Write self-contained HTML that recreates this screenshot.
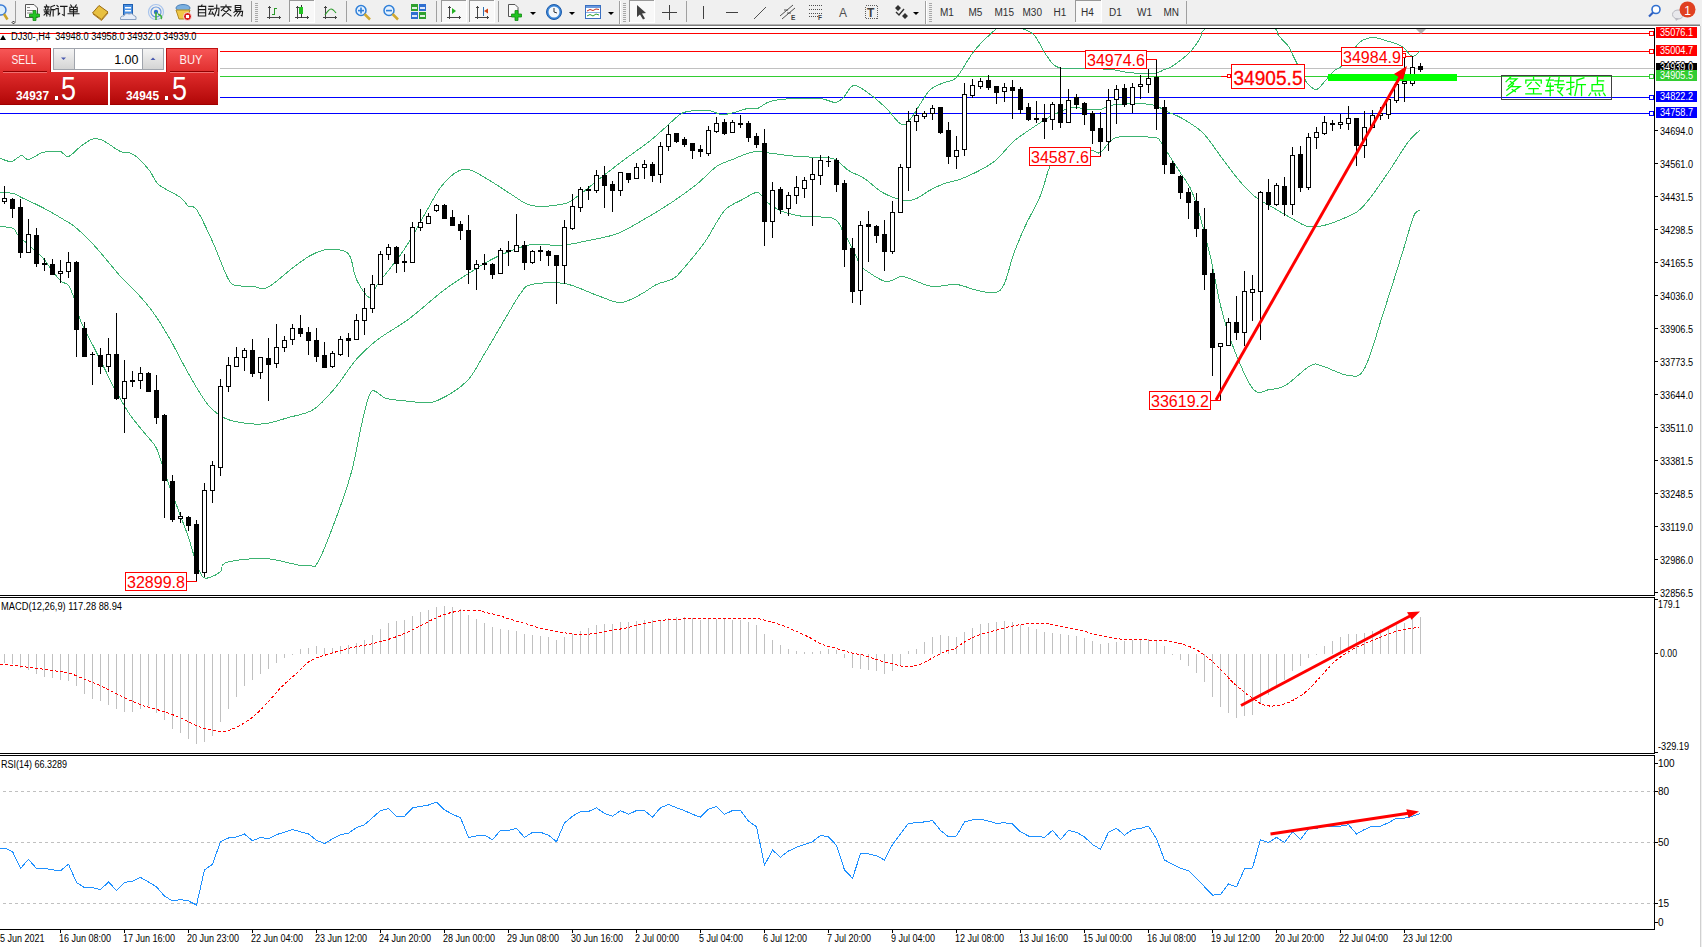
<!DOCTYPE html>
<html><head><meta charset="utf-8"><title>MT4</title>
<style>
html,body{margin:0;padding:0;background:#fff;}
body{width:1702px;height:947px;overflow:hidden;position:relative;font-family:"Liberation Sans", sans-serif;}
svg{position:absolute;left:0;top:0;}
</style></head><body>
<svg width="1702" height="947" viewBox="0 0 1702 947" font-family='"Liberation Sans", sans-serif'>
<rect x="0" y="0" width="1702" height="24" fill="#f0f0f0" /><rect x="0" y="24" width="1702" height="1" fill="#b4b4b4"/><rect x="0" y="25" width="1702" height="1" fill="#7c7c7c"/>
<rect x="0" y="26" width="1700" height="921" fill="#ffffff" />
<rect x="1700" y="24" width="2" height="923" fill="#f0f0f0" />
<rect x="1700" y="26" width="1" height="921" fill="#d0d0d0"/>
<defs><clipPath id="cm"><rect x="0" y="29" width="1654" height="566"/></clipPath><clipPath id="cd"><rect x="0" y="598" width="1654" height="155"/></clipPath><clipPath id="cr"><rect x="0" y="756" width="1654" height="173"/></clipPath></defs>
<g clip-path="url(#cm)" shape-rendering="crispEdges">
<rect x="0" y="33" width="1654" height="1" fill="#ff0000"/>
<rect x="0" y="51" width="1654" height="1" fill="#ff0000"/>
<rect x="0" y="68" width="1654" height="1" fill="#c0c0c0"/>
<rect x="0" y="76" width="1654" height="1" fill="#32cd32"/>
<rect x="0" y="97" width="1654" height="1" fill="#0000ff"/>
<rect x="0" y="113" width="1654" height="1" fill="#0000ff"/>
</g>
<g clip-path="url(#cm)">
<path d="M0.5,158.5 C2.3,159.0 8.0,162.0 11.5,161.5 C15.0,161.0 18.7,155.8 21.5,155.5 C24.3,155.2 25.0,160.0 28.5,159.5 C32.0,159.0 38.7,153.8 42.5,152.5 C46.3,151.2 48.5,151.7 51.5,151.5 C54.5,151.3 57.7,150.7 60.5,151.5 C63.3,152.3 65.2,157.3 68.5,156.5 C71.8,155.7 76.7,149.3 80.5,146.5 C84.3,143.7 88.2,140.7 91.5,139.5 C94.8,138.3 97.5,138.7 100.5,139.5 C103.5,140.3 106.2,142.5 109.5,144.5 C112.8,146.5 116.5,149.8 120.5,151.5 C124.5,153.2 128.7,151.3 133.5,154.5 C138.3,157.7 145.3,165.5 149.5,170.5 C153.7,175.5 153.3,180.0 158.5,184.5 C163.7,189.0 175.5,193.8 180.5,197.5 C185.5,201.2 185.8,204.5 188.5,206.5 C191.2,208.5 192.5,203.7 196.5,209.5 C200.5,215.3 207.2,229.8 212.5,241.5 C217.8,253.2 224.3,272.2 228.5,279.5 C232.7,286.8 233.3,284.3 237.5,285.5 C241.7,286.7 248.5,286.2 253.5,286.5 C258.5,286.8 260.7,290.8 267.5,287.5 C274.3,284.2 287.3,271.8 294.5,266.5 C301.7,261.2 305.2,258.3 310.5,255.5 C315.8,252.7 321.2,250.3 326.5,249.5 C331.8,248.7 338.5,249.2 342.5,250.5 C346.5,251.8 348.2,252.7 350.5,257.5 C352.8,262.3 353.3,272.8 356.5,279.5 C359.7,286.2 366.0,296.7 369.5,297.5 C373.0,298.3 371.8,292.3 377.5,284.5 C383.2,276.7 395.8,261.8 403.5,250.5 C411.2,239.2 417.3,227.0 423.5,216.5 C429.7,206.0 434.8,195.0 440.5,187.5 C446.2,180.0 452.3,174.3 457.5,171.5 C462.7,168.7 465.3,168.5 471.5,170.5 C477.7,172.5 487.8,179.5 494.5,183.5 C501.2,187.5 505.3,190.8 511.5,194.5 C517.7,198.2 523.3,203.8 531.5,205.5 C539.7,207.2 553.3,205.7 560.5,204.5 C567.7,203.3 567.5,203.2 574.5,198.5 C581.5,193.8 594.8,182.5 602.5,176.5 C610.2,170.5 615.0,166.7 620.5,162.5 C626.0,158.3 630.5,155.2 635.5,151.5 C640.5,147.8 645.3,144.7 650.5,140.5 C655.7,136.3 661.3,131.0 666.5,126.5 C671.7,122.0 676.5,116.2 681.5,113.5 C686.5,110.8 691.8,111.0 696.5,110.5 C701.2,110.0 705.3,109.8 709.5,110.5 C713.7,111.2 717.3,114.2 721.5,114.5 C725.7,114.8 730.2,113.5 734.5,112.5 C738.8,111.5 743.7,109.2 747.5,108.5 C751.3,107.8 754.2,109.5 757.5,108.5 C760.8,107.5 763.7,104.0 767.5,102.5 C771.3,101.0 775.5,100.2 780.5,99.5 C785.5,98.8 790.8,98.7 797.5,98.5 C804.2,98.3 814.2,97.8 820.5,98.5 C826.8,99.2 831.7,102.7 835.5,102.5 C839.3,102.3 840.5,100.3 843.5,97.5 C846.5,94.7 849.5,86.3 853.5,85.5 C857.5,84.7 862.2,88.8 867.5,92.5 C872.8,96.2 879.8,102.2 885.5,107.5 C891.2,112.8 897.2,122.8 901.5,124.5 C905.8,126.2 906.8,123.2 911.5,117.5 C916.2,111.8 924.0,96.3 929.5,90.5 C935.0,84.7 940.0,84.7 944.5,82.5 C949.0,80.3 951.5,82.8 956.5,77.5 C961.5,72.2 968.0,58.5 974.5,50.5 C981.0,42.5 989.8,34.5 995.5,29.5 C1001.2,24.5 1004.0,20.7 1008.5,20.5 C1013.0,20.3 1018.2,26.0 1022.5,28.5 C1026.8,31.0 1030.5,31.0 1034.5,35.5 C1038.5,40.0 1042.5,50.2 1046.5,55.5 C1050.5,60.8 1051.8,65.3 1058.5,67.5 C1065.2,69.7 1077.7,68.2 1086.5,68.5 C1095.3,68.8 1104.5,68.8 1111.5,69.5 C1118.5,70.2 1121.5,71.8 1128.5,72.5 C1135.5,73.2 1147.5,74.0 1153.5,73.5 C1159.5,73.0 1161.2,70.8 1164.5,69.5 C1167.8,68.2 1169.2,68.5 1173.5,65.5 C1177.8,62.5 1186.0,56.2 1190.5,51.5 C1195.0,46.8 1198.0,41.3 1200.5,37.5 C1203.0,33.7 1198.8,33.0 1205.5,28.5 C1212.2,24.0 1229.0,10.5 1240.5,10.5 C1252.0,10.5 1268.2,24.3 1274.5,28.5 C1280.8,32.7 1276.2,32.5 1278.5,35.5 C1280.8,38.5 1286.0,43.0 1288.5,46.5 C1291.0,50.0 1292.0,53.5 1293.5,56.5 C1295.0,59.5 1295.5,60.5 1297.5,64.5 C1299.5,68.5 1303.7,77.2 1305.5,80.5 C1307.3,83.8 1306.7,83.0 1308.5,84.5 C1310.3,86.0 1313.7,90.2 1316.5,89.5 C1319.3,88.8 1322.5,83.7 1325.5,80.5 C1328.5,77.3 1331.5,73.2 1334.5,70.5 C1337.5,67.8 1339.7,68.8 1343.5,64.5 C1347.3,60.2 1354.0,48.7 1357.5,44.5 C1361.0,40.3 1361.7,40.7 1364.5,39.5 C1367.3,38.3 1371.0,37.3 1374.5,37.5 C1378.0,37.7 1382.0,39.5 1385.5,40.5 C1389.0,41.5 1392.5,42.3 1395.5,43.5 C1398.5,44.7 1400.7,45.3 1403.5,47.5 C1406.3,49.7 1409.7,56.0 1412.5,56.5 C1415.3,57.0 1419.2,51.5 1420.5,50.5" fill="none" stroke="#3cb371" stroke-width="1" shape-rendering="crispEdges"/>
<path d="M0.5,192.5 C2.7,192.7 10.0,192.7 13.5,193.5 C17.0,194.3 16.7,195.2 21.5,197.5 C26.3,199.8 35.5,203.8 42.5,207.5 C49.5,211.2 58.2,216.3 63.5,219.5 C68.8,222.7 70.2,223.0 74.5,226.5 C78.8,230.0 85.3,236.3 89.5,240.5 C93.7,244.7 96.0,247.5 99.5,251.5 C103.0,255.5 107.0,260.3 110.5,264.5 C114.0,268.7 116.2,271.8 120.5,276.5 C124.8,281.2 131.2,286.7 136.5,292.5 C141.8,298.3 147.2,304.2 152.5,311.5 C157.8,318.8 163.3,327.7 168.5,336.5 C173.7,345.3 178.8,356.0 183.5,364.5 C188.2,373.0 192.2,380.5 196.5,387.5 C200.8,394.5 204.7,401.3 209.5,406.5 C214.3,411.7 219.2,415.7 225.5,418.5 C231.8,421.3 240.7,422.7 247.5,423.5 C254.3,424.3 259.7,424.5 266.5,423.5 C273.3,422.5 280.7,419.8 288.5,417.5 C296.3,415.2 305.7,414.5 313.5,409.5 C321.3,404.5 328.7,395.5 335.5,387.5 C342.3,379.5 348.7,368.5 354.5,361.5 C360.3,354.5 365.7,349.8 370.5,345.5 C375.3,341.2 377.0,340.0 383.5,335.5 C390.0,331.0 399.5,326.0 409.5,318.5 C419.5,311.0 433.7,298.0 443.5,290.5 C453.3,283.0 459.5,279.2 468.5,273.5 C477.5,267.8 487.0,261.3 497.5,256.5 C508.0,251.7 521.0,246.3 531.5,244.5 C542.0,242.7 551.0,246.2 560.5,245.5 C570.0,244.8 579.0,242.5 588.5,240.5 C598.0,238.5 608.0,237.2 617.5,233.5 C627.0,229.8 636.5,223.7 645.5,218.5 C654.5,213.3 663.0,208.2 671.5,202.5 C680.0,196.8 689.0,190.5 696.5,184.5 C704.0,178.5 710.5,170.7 716.5,166.5 C722.5,162.3 727.3,161.7 732.5,159.5 C737.7,157.3 743.3,154.8 747.5,153.5 C751.7,152.2 753.3,151.5 757.5,151.5 C761.7,151.5 765.8,152.7 772.5,153.5 C779.2,154.3 789.0,155.8 797.5,156.5 C806.0,157.2 817.2,157.0 823.5,157.5 C829.8,158.0 831.3,157.3 835.5,159.5 C839.7,161.7 843.7,167.3 848.5,170.5 C853.3,173.7 858.8,174.8 864.5,178.5 C870.2,182.2 875.8,188.8 882.5,192.5 C889.2,196.2 898.8,199.5 904.5,200.5 C910.2,201.5 912.3,200.2 916.5,198.5 C920.7,196.8 924.8,193.0 929.5,190.5 C934.2,188.0 939.5,185.3 944.5,183.5 C949.5,181.7 954.0,181.5 959.5,179.5 C965.0,177.5 971.5,174.7 977.5,171.5 C983.5,168.3 989.5,165.5 995.5,160.5 C1001.5,155.5 1007.5,146.8 1013.5,141.5 C1019.5,136.2 1025.7,132.5 1031.5,128.5 C1037.3,124.5 1044.3,120.0 1048.5,117.5 C1052.7,115.0 1052.7,115.2 1056.5,113.5 C1060.3,111.8 1065.8,108.2 1071.5,107.5 C1077.2,106.8 1085.7,109.2 1090.5,109.5 C1095.3,109.8 1096.3,110.3 1100.5,109.5 C1104.7,108.7 1107.0,105.3 1115.5,104.5 C1124.0,103.7 1143.0,103.3 1151.5,104.5 C1160.0,105.7 1161.7,109.3 1166.5,111.5 C1171.3,113.7 1174.5,114.0 1180.5,117.5 C1186.5,121.0 1195.7,125.8 1202.5,132.5 C1209.3,139.2 1215.7,149.8 1221.5,157.5 C1227.3,165.2 1232.2,172.2 1237.5,178.5 C1242.8,184.8 1248.2,191.0 1253.5,195.5 C1258.8,200.0 1263.7,202.0 1269.5,205.5 C1275.3,209.0 1282.2,213.0 1288.5,216.5 C1294.8,220.0 1301.7,225.0 1307.5,226.5 C1313.3,228.0 1318.3,226.5 1323.5,225.5 C1328.7,224.5 1332.8,222.8 1338.5,220.5 C1344.2,218.2 1352.2,215.3 1357.5,211.5 C1362.8,207.7 1365.2,204.3 1370.5,197.5 C1375.8,190.7 1383.2,179.8 1389.5,170.5 C1395.8,161.2 1403.5,148.2 1408.5,141.5 C1413.5,134.8 1417.7,132.3 1419.5,130.5" fill="none" stroke="#3cb371" stroke-width="1" shape-rendering="crispEdges"/>
<path d="M0.5,226.5 C2.7,226.8 10.7,227.2 13.5,228.5 C16.3,229.8 14.3,231.2 17.5,234.5 C20.7,237.8 28.3,244.7 32.5,248.5 C36.7,252.3 39.0,253.5 42.5,257.5 C46.0,261.5 50.3,268.5 53.5,272.5 C56.7,276.5 59.0,279.3 61.5,281.5 C64.0,283.7 66.3,282.5 68.5,285.5 C70.7,288.5 72.5,293.7 74.5,299.5 C76.5,305.3 77.2,312.3 80.5,320.5 C83.8,328.7 90.5,340.5 94.5,348.5 C98.5,356.5 101.2,361.8 104.5,368.5 C107.8,375.2 110.5,381.2 114.5,388.5 C118.5,395.8 124.0,405.7 128.5,412.5 C133.0,419.3 137.0,423.8 141.5,429.5 C146.0,435.2 152.2,441.0 155.5,446.5 C158.8,452.0 159.3,456.3 161.5,462.5 C163.7,468.7 165.7,475.5 168.5,483.5 C171.3,491.5 175.2,501.5 178.5,510.5 C181.8,519.5 185.7,529.2 188.5,537.5 C191.3,545.8 193.2,554.0 195.5,560.5 C197.8,567.0 200.2,573.7 202.5,576.5 C204.8,579.3 206.5,578.3 209.5,577.5 C212.5,576.7 217.7,574.0 220.5,571.5 C223.3,569.0 219.2,564.7 226.5,562.5 C233.8,560.3 252.2,558.0 264.5,558.5 C276.8,559.0 292.8,564.3 300.5,565.5 C308.2,566.7 307.8,565.7 310.5,565.5 C313.2,565.3 313.3,569.5 316.5,564.5 C319.7,559.5 323.8,550.3 329.5,535.5 C335.2,520.7 345.0,494.7 350.5,475.5 C356.0,456.3 359.0,434.5 362.5,420.5 C366.0,406.5 367.5,395.2 371.5,391.5 C375.5,387.8 379.8,396.8 386.5,398.5 C393.2,400.2 405.8,400.8 411.5,401.5 C417.2,402.2 416.2,402.7 420.5,402.5 C424.8,402.3 429.8,404.0 437.5,400.5 C445.2,397.0 458.8,389.0 466.5,381.5 C474.2,374.0 477.3,365.5 483.5,355.5 C489.7,345.5 497.3,331.8 503.5,321.5 C509.7,311.2 515.8,299.7 520.5,293.5 C525.2,287.3 524.2,286.2 531.5,284.5 C538.8,282.8 553.5,281.7 564.5,283.5 C575.5,285.3 588.2,292.3 597.5,295.5 C606.8,298.7 613.3,302.7 620.5,302.5 C627.7,302.3 634.5,297.5 640.5,294.5 C646.5,291.5 651.0,287.2 656.5,284.5 C662.0,281.8 669.0,281.2 673.5,278.5 C678.0,275.8 678.3,274.5 683.5,268.5 C688.7,262.5 699.0,250.2 704.5,242.5 C710.0,234.8 712.8,228.2 716.5,222.5 C720.2,216.8 722.2,212.3 726.5,208.5 C730.8,204.7 737.3,202.2 742.5,199.5 C747.7,196.8 753.3,192.0 757.5,192.5 C761.7,193.0 763.3,199.3 767.5,202.5 C771.7,205.7 776.5,209.2 782.5,211.5 C788.5,213.8 795.0,215.3 803.5,216.5 C812.0,217.7 826.8,215.8 833.5,218.5 C840.2,221.2 840.3,227.5 843.5,232.5 C846.7,237.5 849.7,243.0 852.5,248.5 C855.3,254.0 858.5,262.0 860.5,265.5 C862.5,269.0 860.3,266.8 864.5,269.5 C868.7,272.2 879.3,280.3 885.5,281.5 C891.7,282.7 896.7,276.7 901.5,276.5 C906.3,276.3 909.3,278.8 914.5,280.5 C919.7,282.2 925.5,285.8 932.5,286.5 C939.5,287.2 949.0,283.8 956.5,284.5 C964.0,285.2 971.0,289.2 977.5,290.5 C984.0,291.8 991.0,293.7 995.5,292.5 C1000.0,291.3 1001.5,289.8 1004.5,283.5 C1007.5,277.2 1010.0,264.2 1013.5,254.5 C1017.0,244.8 1021.0,235.3 1025.5,225.5 C1030.0,215.7 1036.5,205.2 1040.5,195.5 C1044.5,185.8 1046.2,174.7 1049.5,167.5 C1052.8,160.3 1053.7,155.3 1060.5,152.5 C1067.3,149.7 1083.8,150.5 1090.5,150.5 C1097.2,150.5 1096.2,154.7 1100.5,152.5 C1104.8,150.3 1107.7,140.0 1116.5,137.5 C1125.3,135.0 1146.2,136.8 1153.5,137.5 C1160.8,138.2 1157.7,138.2 1160.5,141.5 C1163.3,144.8 1167.0,152.0 1170.5,157.5 C1174.0,163.0 1177.7,168.2 1181.5,174.5 C1185.3,180.8 1188.8,182.5 1193.5,195.5 C1198.2,208.5 1204.8,233.5 1209.5,252.5 C1214.2,271.5 1217.3,293.2 1221.5,309.5 C1225.7,325.8 1229.2,337.2 1234.5,350.5 C1239.8,363.8 1247.7,383.0 1253.5,389.5 C1259.3,396.0 1264.2,390.2 1269.5,389.5 C1274.8,388.8 1278.7,389.5 1285.5,385.5 C1292.3,381.5 1304.2,368.7 1310.5,365.5 C1316.8,362.3 1317.2,364.8 1323.5,366.5 C1329.8,368.2 1341.7,375.2 1348.5,375.5 C1355.3,375.8 1358.7,379.0 1364.5,368.5 C1370.3,358.0 1377.2,331.8 1383.5,312.5 C1389.8,293.2 1397.5,268.5 1402.5,252.5 C1407.5,236.5 1410.7,223.5 1413.5,216.5 C1416.3,209.5 1418.5,211.5 1419.5,210.5" fill="none" stroke="#3cb371" stroke-width="1" shape-rendering="crispEdges"/>
</g>
<g clip-path="url(#cm)" shape-rendering="crispEdges">
<rect x="4" y="186" width="1" height="18" fill="#000" />
<rect x="2" y="198" width="5" height="4" fill="#000" />
<rect x="3" y="199" width="3" height="2" fill="#fff" />
<rect x="12" y="198" width="1" height="20" fill="#000" />
<rect x="10" y="199" width="5" height="10" fill="#000" />
<rect x="20" y="199" width="1" height="59" fill="#000" />
<rect x="18" y="207" width="5" height="46" fill="#000" />
<rect x="28" y="219" width="1" height="34" fill="#000" />
<rect x="26" y="234" width="5" height="19" fill="#000" />
<rect x="27" y="235" width="3" height="17" fill="#fff" />
<rect x="36" y="228" width="1" height="39" fill="#000" />
<rect x="34" y="235" width="5" height="29" fill="#000" />
<rect x="44" y="258" width="1" height="13" fill="#000" />
<rect x="42" y="263" width="5" height="2" fill="#000" />
<rect x="52" y="259" width="1" height="16" fill="#000" />
<rect x="50" y="264" width="5" height="11" fill="#000" />
<rect x="60" y="260" width="1" height="23" fill="#000" />
<rect x="58" y="271" width="5" height="3" fill="#000" />
<rect x="59" y="272" width="3" height="1" fill="#fff" />
<rect x="68" y="252" width="1" height="26" fill="#000" />
<rect x="66" y="262" width="5" height="10" fill="#000" />
<rect x="67" y="263" width="3" height="8" fill="#fff" />
<rect x="76" y="261" width="1" height="96" fill="#000" />
<rect x="74" y="262" width="5" height="68" fill="#000" />
<rect x="84" y="322" width="1" height="35" fill="#000" />
<rect x="82" y="328" width="5" height="29" fill="#000" />
<rect x="92" y="352" width="1" height="33" fill="#000" />
<rect x="90" y="354" width="5" height="1" fill="#000" />
<rect x="100" y="348" width="1" height="26" fill="#000" />
<rect x="98" y="355" width="5" height="12" fill="#000" />
<rect x="108" y="338" width="1" height="34" fill="#000" />
<rect x="106" y="354" width="5" height="13" fill="#000" />
<rect x="107" y="355" width="3" height="11" fill="#fff" />
<rect x="116" y="313" width="1" height="87" fill="#000" />
<rect x="114" y="354" width="5" height="45" fill="#000" />
<rect x="124" y="360" width="1" height="73" fill="#000" />
<rect x="122" y="381" width="5" height="18" fill="#000" />
<rect x="123" y="382" width="3" height="16" fill="#fff" />
<rect x="132" y="371" width="1" height="16" fill="#000" />
<rect x="130" y="380" width="5" height="2" fill="#000" />
<rect x="140" y="367" width="1" height="22" fill="#000" />
<rect x="138" y="373" width="5" height="8" fill="#000" />
<rect x="139" y="374" width="3" height="6" fill="#fff" />
<rect x="148" y="372" width="1" height="20" fill="#000" />
<rect x="146" y="373" width="5" height="19" fill="#000" />
<rect x="156" y="375" width="1" height="49" fill="#000" />
<rect x="154" y="390" width="5" height="28" fill="#000" />
<rect x="164" y="414" width="1" height="104" fill="#000" />
<rect x="162" y="415" width="5" height="66" fill="#000" />
<rect x="172" y="475" width="1" height="47" fill="#000" />
<rect x="170" y="481" width="5" height="39" fill="#000" />
<rect x="180" y="512" width="1" height="11" fill="#000" />
<rect x="178" y="516" width="5" height="3" fill="#000" />
<rect x="179" y="517" width="3" height="1" fill="#fff" />
<rect x="188" y="516" width="1" height="15" fill="#000" />
<rect x="186" y="517" width="5" height="9" fill="#000" />
<rect x="196" y="520" width="1" height="62" fill="#000" />
<rect x="194" y="524" width="5" height="50" fill="#000" />
<rect x="204" y="483" width="1" height="94" fill="#000" />
<rect x="202" y="490" width="5" height="83" fill="#000" />
<rect x="203" y="491" width="3" height="81" fill="#fff" />
<rect x="212" y="461" width="1" height="42" fill="#000" />
<rect x="210" y="465" width="5" height="26" fill="#000" />
<rect x="211" y="466" width="3" height="24" fill="#fff" />
<rect x="220" y="379" width="1" height="97" fill="#000" />
<rect x="218" y="386" width="5" height="82" fill="#000" />
<rect x="219" y="387" width="3" height="80" fill="#fff" />
<rect x="228" y="357" width="1" height="35" fill="#000" />
<rect x="226" y="365" width="5" height="22" fill="#000" />
<rect x="227" y="366" width="3" height="20" fill="#fff" />
<rect x="236" y="347" width="1" height="20" fill="#000" />
<rect x="234" y="357" width="5" height="10" fill="#000" />
<rect x="235" y="358" width="3" height="8" fill="#fff" />
<rect x="244" y="348" width="1" height="23" fill="#000" />
<rect x="242" y="350" width="5" height="8" fill="#000" />
<rect x="243" y="351" width="3" height="6" fill="#fff" />
<rect x="252" y="339" width="1" height="38" fill="#000" />
<rect x="250" y="350" width="5" height="24" fill="#000" />
<rect x="260" y="357" width="1" height="22" fill="#000" />
<rect x="258" y="357" width="5" height="16" fill="#000" />
<rect x="259" y="358" width="3" height="14" fill="#fff" />
<rect x="268" y="338" width="1" height="63" fill="#000" />
<rect x="266" y="358" width="5" height="7" fill="#000" />
<rect x="276" y="324" width="1" height="44" fill="#000" />
<rect x="274" y="347" width="5" height="17" fill="#000" />
<rect x="275" y="348" width="3" height="15" fill="#fff" />
<rect x="284" y="336" width="1" height="16" fill="#000" />
<rect x="282" y="340" width="5" height="8" fill="#000" />
<rect x="283" y="341" width="3" height="6" fill="#fff" />
<rect x="292" y="324" width="1" height="21" fill="#000" />
<rect x="290" y="328" width="5" height="12" fill="#000" />
<rect x="291" y="329" width="3" height="10" fill="#fff" />
<rect x="300" y="315" width="1" height="22" fill="#000" />
<rect x="298" y="328" width="5" height="6" fill="#000" />
<rect x="308" y="327" width="1" height="28" fill="#000" />
<rect x="306" y="332" width="5" height="9" fill="#000" />
<rect x="316" y="328" width="1" height="34" fill="#000" />
<rect x="314" y="340" width="5" height="17" fill="#000" />
<rect x="324" y="342" width="1" height="26" fill="#000" />
<rect x="322" y="355" width="5" height="13" fill="#000" />
<rect x="332" y="351" width="1" height="17" fill="#000" />
<rect x="330" y="353" width="5" height="14" fill="#000" />
<rect x="331" y="354" width="3" height="12" fill="#fff" />
<rect x="340" y="336" width="1" height="20" fill="#000" />
<rect x="338" y="339" width="5" height="16" fill="#000" />
<rect x="339" y="340" width="3" height="14" fill="#fff" />
<rect x="348" y="333" width="1" height="24" fill="#000" />
<rect x="346" y="338" width="5" height="3" fill="#000" />
<rect x="356" y="314" width="1" height="26" fill="#000" />
<rect x="354" y="320" width="5" height="20" fill="#000" />
<rect x="355" y="321" width="3" height="18" fill="#fff" />
<rect x="364" y="288" width="1" height="47" fill="#000" />
<rect x="362" y="308" width="5" height="13" fill="#000" />
<rect x="363" y="309" width="3" height="11" fill="#fff" />
<rect x="372" y="275" width="1" height="38" fill="#000" />
<rect x="370" y="284" width="5" height="25" fill="#000" />
<rect x="371" y="285" width="3" height="23" fill="#fff" />
<rect x="380" y="251" width="1" height="34" fill="#000" />
<rect x="378" y="254" width="5" height="31" fill="#000" />
<rect x="379" y="255" width="3" height="29" fill="#fff" />
<rect x="388" y="244" width="1" height="16" fill="#000" />
<rect x="386" y="247" width="5" height="8" fill="#000" />
<rect x="387" y="248" width="3" height="6" fill="#fff" />
<rect x="396" y="246" width="1" height="27" fill="#000" />
<rect x="394" y="247" width="5" height="17" fill="#000" />
<rect x="404" y="254" width="1" height="18" fill="#000" />
<rect x="402" y="261" width="5" height="2" fill="#000" />
<rect x="412" y="222" width="1" height="41" fill="#000" />
<rect x="410" y="227" width="5" height="36" fill="#000" />
<rect x="411" y="228" width="3" height="34" fill="#fff" />
<rect x="420" y="209" width="1" height="22" fill="#000" />
<rect x="418" y="222" width="5" height="6" fill="#000" />
<rect x="419" y="223" width="3" height="4" fill="#fff" />
<rect x="428" y="213" width="1" height="11" fill="#000" />
<rect x="426" y="216" width="5" height="8" fill="#000" />
<rect x="427" y="217" width="3" height="6" fill="#fff" />
<rect x="436" y="204" width="1" height="8" fill="#000" />
<rect x="434" y="205" width="5" height="6" fill="#000" />
<rect x="435" y="206" width="3" height="4" fill="#fff" />
<rect x="444" y="204" width="1" height="15" fill="#000" />
<rect x="442" y="205" width="5" height="14" fill="#000" />
<rect x="452" y="210" width="1" height="16" fill="#000" />
<rect x="450" y="217" width="5" height="9" fill="#000" />
<rect x="460" y="221" width="1" height="19" fill="#000" />
<rect x="458" y="224" width="5" height="7" fill="#000" />
<rect x="468" y="215" width="1" height="69" fill="#000" />
<rect x="466" y="230" width="5" height="40" fill="#000" />
<rect x="476" y="260" width="1" height="30" fill="#000" />
<rect x="474" y="264" width="5" height="5" fill="#000" />
<rect x="475" y="265" width="3" height="3" fill="#fff" />
<rect x="484" y="254" width="1" height="16" fill="#000" />
<rect x="482" y="263" width="5" height="2" fill="#000" />
<rect x="492" y="263" width="1" height="16" fill="#000" />
<rect x="490" y="264" width="5" height="11" fill="#000" />
<rect x="500" y="248" width="1" height="26" fill="#000" />
<rect x="498" y="250" width="5" height="24" fill="#000" />
<rect x="499" y="251" width="3" height="22" fill="#fff" />
<rect x="508" y="241" width="1" height="25" fill="#000" />
<rect x="506" y="250" width="5" height="2" fill="#000" />
<rect x="516" y="214" width="1" height="38" fill="#000" />
<rect x="514" y="245" width="5" height="7" fill="#000" />
<rect x="515" y="246" width="3" height="5" fill="#fff" />
<rect x="524" y="241" width="1" height="29" fill="#000" />
<rect x="522" y="245" width="5" height="18" fill="#000" />
<rect x="532" y="250" width="1" height="14" fill="#000" />
<rect x="530" y="251" width="5" height="12" fill="#000" />
<rect x="531" y="252" width="3" height="10" fill="#fff" />
<rect x="540" y="246" width="1" height="15" fill="#000" />
<rect x="538" y="250" width="5" height="2" fill="#000" />
<rect x="548" y="250" width="1" height="16" fill="#000" />
<rect x="546" y="251" width="5" height="5" fill="#000" />
<rect x="556" y="255" width="1" height="49" fill="#000" />
<rect x="554" y="255" width="5" height="11" fill="#000" />
<rect x="564" y="220" width="1" height="64" fill="#000" />
<rect x="562" y="227" width="5" height="39" fill="#000" />
<rect x="563" y="228" width="3" height="37" fill="#fff" />
<rect x="572" y="194" width="1" height="36" fill="#000" />
<rect x="570" y="206" width="5" height="23" fill="#000" />
<rect x="571" y="207" width="3" height="21" fill="#fff" />
<rect x="580" y="187" width="1" height="25" fill="#000" />
<rect x="578" y="189" width="5" height="19" fill="#000" />
<rect x="579" y="190" width="3" height="17" fill="#fff" />
<rect x="588" y="186" width="1" height="14" fill="#000" />
<rect x="586" y="189" width="5" height="2" fill="#000" />
<rect x="596" y="170" width="1" height="23" fill="#000" />
<rect x="594" y="175" width="5" height="16" fill="#000" />
<rect x="595" y="176" width="3" height="14" fill="#fff" />
<rect x="604" y="166" width="1" height="42" fill="#000" />
<rect x="602" y="175" width="5" height="11" fill="#000" />
<rect x="612" y="181" width="1" height="31" fill="#000" />
<rect x="610" y="184" width="5" height="7" fill="#000" />
<rect x="620" y="172" width="1" height="24" fill="#000" />
<rect x="618" y="172" width="5" height="19" fill="#000" />
<rect x="619" y="173" width="3" height="17" fill="#fff" />
<rect x="628" y="173" width="1" height="10" fill="#000" />
<rect x="626" y="173" width="5" height="7" fill="#000" />
<rect x="636" y="163" width="1" height="16" fill="#000" />
<rect x="634" y="167" width="5" height="12" fill="#000" />
<rect x="635" y="168" width="3" height="10" fill="#fff" />
<rect x="644" y="160" width="1" height="19" fill="#000" />
<rect x="642" y="164" width="5" height="4" fill="#000" />
<rect x="643" y="165" width="3" height="2" fill="#fff" />
<rect x="652" y="162" width="1" height="20" fill="#000" />
<rect x="650" y="164" width="5" height="12" fill="#000" />
<rect x="660" y="142" width="1" height="41" fill="#000" />
<rect x="658" y="146" width="5" height="29" fill="#000" />
<rect x="659" y="147" width="3" height="27" fill="#fff" />
<rect x="668" y="125" width="1" height="26" fill="#000" />
<rect x="666" y="134" width="5" height="13" fill="#000" />
<rect x="667" y="135" width="3" height="11" fill="#fff" />
<rect x="676" y="133" width="1" height="10" fill="#000" />
<rect x="674" y="133" width="5" height="9" fill="#000" />
<rect x="684" y="137" width="1" height="10" fill="#000" />
<rect x="682" y="139" width="5" height="6" fill="#000" />
<rect x="692" y="143" width="1" height="16" fill="#000" />
<rect x="690" y="143" width="5" height="8" fill="#000" />
<rect x="700" y="145" width="1" height="12" fill="#000" />
<rect x="698" y="149" width="5" height="3" fill="#000" />
<rect x="708" y="126" width="1" height="30" fill="#000" />
<rect x="706" y="130" width="5" height="24" fill="#000" />
<rect x="707" y="131" width="3" height="22" fill="#fff" />
<rect x="716" y="117" width="1" height="16" fill="#000" />
<rect x="714" y="123" width="5" height="9" fill="#000" />
<rect x="715" y="124" width="3" height="7" fill="#fff" />
<rect x="724" y="119" width="1" height="16" fill="#000" />
<rect x="722" y="122" width="5" height="12" fill="#000" />
<rect x="732" y="120" width="1" height="13" fill="#000" />
<rect x="730" y="122" width="5" height="11" fill="#000" />
<rect x="731" y="123" width="3" height="9" fill="#fff" />
<rect x="740" y="115" width="1" height="13" fill="#000" />
<rect x="738" y="123" width="5" height="2" fill="#000" />
<rect x="748" y="121" width="1" height="21" fill="#000" />
<rect x="746" y="123" width="5" height="15" fill="#000" />
<rect x="756" y="133" width="1" height="15" fill="#000" />
<rect x="754" y="136" width="5" height="9" fill="#000" />
<rect x="764" y="129" width="1" height="117" fill="#000" />
<rect x="762" y="143" width="5" height="79" fill="#000" />
<rect x="772" y="182" width="1" height="56" fill="#000" />
<rect x="770" y="190" width="5" height="32" fill="#000" />
<rect x="771" y="191" width="3" height="30" fill="#fff" />
<rect x="780" y="187" width="1" height="27" fill="#000" />
<rect x="778" y="189" width="5" height="21" fill="#000" />
<rect x="788" y="192" width="1" height="24" fill="#000" />
<rect x="786" y="195" width="5" height="14" fill="#000" />
<rect x="787" y="196" width="3" height="12" fill="#fff" />
<rect x="796" y="176" width="1" height="28" fill="#000" />
<rect x="794" y="187" width="5" height="9" fill="#000" />
<rect x="795" y="188" width="3" height="7" fill="#fff" />
<rect x="804" y="177" width="1" height="21" fill="#000" />
<rect x="802" y="180" width="5" height="9" fill="#000" />
<rect x="803" y="181" width="3" height="7" fill="#fff" />
<rect x="812" y="158" width="1" height="68" fill="#000" />
<rect x="810" y="174" width="5" height="6" fill="#000" />
<rect x="811" y="175" width="3" height="4" fill="#fff" />
<rect x="820" y="155" width="1" height="30" fill="#000" />
<rect x="818" y="160" width="5" height="16" fill="#000" />
<rect x="819" y="161" width="3" height="14" fill="#fff" />
<rect x="828" y="156" width="1" height="11" fill="#000" />
<rect x="826" y="161" width="5" height="1" fill="#000" />
<rect x="836" y="158" width="1" height="34" fill="#000" />
<rect x="834" y="160" width="5" height="25" fill="#000" />
<rect x="844" y="180" width="1" height="87" fill="#000" />
<rect x="842" y="183" width="5" height="67" fill="#000" />
<rect x="852" y="238" width="1" height="65" fill="#000" />
<rect x="850" y="248" width="5" height="44" fill="#000" />
<rect x="860" y="221" width="1" height="84" fill="#000" />
<rect x="858" y="225" width="5" height="66" fill="#000" />
<rect x="859" y="226" width="3" height="64" fill="#fff" />
<rect x="868" y="211" width="1" height="51" fill="#000" />
<rect x="866" y="224" width="5" height="3" fill="#000" />
<rect x="876" y="225" width="1" height="18" fill="#000" />
<rect x="874" y="226" width="5" height="10" fill="#000" />
<rect x="884" y="220" width="1" height="51" fill="#000" />
<rect x="882" y="234" width="5" height="18" fill="#000" />
<rect x="892" y="201" width="1" height="53" fill="#000" />
<rect x="890" y="212" width="5" height="40" fill="#000" />
<rect x="891" y="213" width="3" height="38" fill="#fff" />
<rect x="900" y="164" width="1" height="49" fill="#000" />
<rect x="898" y="167" width="5" height="46" fill="#000" />
<rect x="899" y="168" width="3" height="44" fill="#fff" />
<rect x="908" y="111" width="1" height="80" fill="#000" />
<rect x="906" y="121" width="5" height="47" fill="#000" />
<rect x="907" y="122" width="3" height="45" fill="#fff" />
<rect x="916" y="108" width="1" height="23" fill="#000" />
<rect x="914" y="115" width="5" height="7" fill="#000" />
<rect x="915" y="116" width="3" height="5" fill="#fff" />
<rect x="924" y="111" width="1" height="8" fill="#000" />
<rect x="922" y="113" width="5" height="4" fill="#000" />
<rect x="923" y="114" width="3" height="2" fill="#fff" />
<rect x="932" y="105" width="1" height="15" fill="#000" />
<rect x="930" y="108" width="5" height="6" fill="#000" />
<rect x="931" y="109" width="3" height="4" fill="#fff" />
<rect x="940" y="107" width="1" height="27" fill="#000" />
<rect x="938" y="107" width="5" height="26" fill="#000" />
<rect x="948" y="122" width="1" height="42" fill="#000" />
<rect x="946" y="130" width="5" height="27" fill="#000" />
<rect x="956" y="136" width="1" height="33" fill="#000" />
<rect x="954" y="150" width="5" height="7" fill="#000" />
<rect x="955" y="151" width="3" height="5" fill="#fff" />
<rect x="964" y="83" width="1" height="73" fill="#000" />
<rect x="962" y="94" width="5" height="56" fill="#000" />
<rect x="963" y="95" width="3" height="54" fill="#fff" />
<rect x="972" y="79" width="1" height="19" fill="#000" />
<rect x="970" y="85" width="5" height="11" fill="#000" />
<rect x="971" y="86" width="3" height="9" fill="#fff" />
<rect x="980" y="78" width="1" height="11" fill="#000" />
<rect x="978" y="81" width="5" height="6" fill="#000" />
<rect x="979" y="82" width="3" height="4" fill="#fff" />
<rect x="988" y="75" width="1" height="15" fill="#000" />
<rect x="986" y="80" width="5" height="8" fill="#000" />
<rect x="996" y="86" width="1" height="18" fill="#000" />
<rect x="994" y="86" width="5" height="7" fill="#000" />
<rect x="1004" y="83" width="1" height="19" fill="#000" />
<rect x="1002" y="87" width="5" height="5" fill="#000" />
<rect x="1003" y="88" width="3" height="3" fill="#fff" />
<rect x="1012" y="80" width="1" height="39" fill="#000" />
<rect x="1010" y="87" width="5" height="4" fill="#000" />
<rect x="1020" y="87" width="1" height="27" fill="#000" />
<rect x="1018" y="89" width="5" height="21" fill="#000" />
<rect x="1028" y="103" width="1" height="18" fill="#000" />
<rect x="1026" y="107" width="5" height="13" fill="#000" />
<rect x="1036" y="101" width="1" height="22" fill="#000" />
<rect x="1034" y="118" width="5" height="2" fill="#000" />
<rect x="1044" y="104" width="1" height="35" fill="#000" />
<rect x="1042" y="118" width="5" height="4" fill="#000" />
<rect x="1052" y="102" width="1" height="28" fill="#000" />
<rect x="1050" y="104" width="5" height="16" fill="#000" />
<rect x="1051" y="105" width="3" height="14" fill="#fff" />
<rect x="1060" y="67" width="1" height="61" fill="#000" />
<rect x="1058" y="104" width="5" height="19" fill="#000" />
<rect x="1068" y="89" width="1" height="34" fill="#000" />
<rect x="1066" y="100" width="5" height="23" fill="#000" />
<rect x="1067" y="101" width="3" height="21" fill="#fff" />
<rect x="1076" y="94" width="1" height="15" fill="#000" />
<rect x="1074" y="97" width="5" height="8" fill="#000" />
<rect x="1084" y="102" width="1" height="23" fill="#000" />
<rect x="1082" y="103" width="5" height="12" fill="#000" />
<rect x="1092" y="111" width="1" height="33" fill="#000" />
<rect x="1090" y="113" width="5" height="18" fill="#000" />
<rect x="1100" y="112" width="1" height="45" fill="#000" />
<rect x="1098" y="128" width="5" height="14" fill="#000" />
<rect x="1108" y="89" width="1" height="62" fill="#000" />
<rect x="1106" y="100" width="5" height="42" fill="#000" />
<rect x="1107" y="101" width="3" height="40" fill="#fff" />
<rect x="1116" y="85" width="1" height="39" fill="#000" />
<rect x="1114" y="89" width="5" height="11" fill="#000" />
<rect x="1115" y="90" width="3" height="9" fill="#fff" />
<rect x="1124" y="84" width="1" height="23" fill="#000" />
<rect x="1122" y="88" width="5" height="17" fill="#000" />
<rect x="1132" y="83" width="1" height="30" fill="#000" />
<rect x="1130" y="87" width="5" height="18" fill="#000" />
<rect x="1131" y="88" width="3" height="16" fill="#fff" />
<rect x="1140" y="75" width="1" height="24" fill="#000" />
<rect x="1138" y="84" width="5" height="3" fill="#000" />
<rect x="1139" y="85" width="3" height="1" fill="#fff" />
<rect x="1148" y="69" width="1" height="24" fill="#000" />
<rect x="1146" y="78" width="5" height="7" fill="#000" />
<rect x="1147" y="79" width="3" height="5" fill="#fff" />
<rect x="1156" y="59" width="1" height="71" fill="#000" />
<rect x="1154" y="77" width="5" height="32" fill="#000" />
<rect x="1164" y="100" width="1" height="74" fill="#000" />
<rect x="1162" y="107" width="5" height="58" fill="#000" />
<rect x="1172" y="161" width="1" height="13" fill="#000" />
<rect x="1170" y="163" width="5" height="11" fill="#000" />
<rect x="1180" y="175" width="1" height="24" fill="#000" />
<rect x="1178" y="176" width="5" height="17" fill="#000" />
<rect x="1188" y="188" width="1" height="31" fill="#000" />
<rect x="1186" y="192" width="5" height="11" fill="#000" />
<rect x="1196" y="193" width="1" height="44" fill="#000" />
<rect x="1194" y="201" width="5" height="28" fill="#000" />
<rect x="1204" y="208" width="1" height="82" fill="#000" />
<rect x="1202" y="229" width="5" height="46" fill="#000" />
<rect x="1212" y="269" width="1" height="107" fill="#000" />
<rect x="1210" y="273" width="5" height="75" fill="#000" />
<rect x="1220" y="343" width="1" height="58" fill="#000" />
<rect x="1218" y="343" width="5" height="4" fill="#000" />
<rect x="1219" y="344" width="3" height="2" fill="#fff" />
<rect x="1228" y="318" width="1" height="28" fill="#000" />
<rect x="1226" y="322" width="5" height="24" fill="#000" />
<rect x="1227" y="323" width="3" height="22" fill="#fff" />
<rect x="1236" y="296" width="1" height="44" fill="#000" />
<rect x="1234" y="322" width="5" height="11" fill="#000" />
<rect x="1244" y="271" width="1" height="75" fill="#000" />
<rect x="1242" y="291" width="5" height="42" fill="#000" />
<rect x="1243" y="292" width="3" height="40" fill="#fff" />
<rect x="1252" y="275" width="1" height="46" fill="#000" />
<rect x="1250" y="289" width="5" height="4" fill="#000" />
<rect x="1251" y="290" width="3" height="2" fill="#fff" />
<rect x="1260" y="191" width="1" height="149" fill="#000" />
<rect x="1258" y="192" width="5" height="100" fill="#000" />
<rect x="1259" y="193" width="3" height="98" fill="#fff" />
<rect x="1268" y="179" width="1" height="31" fill="#000" />
<rect x="1266" y="192" width="5" height="13" fill="#000" />
<rect x="1276" y="183" width="1" height="23" fill="#000" />
<rect x="1274" y="185" width="5" height="20" fill="#000" />
<rect x="1275" y="186" width="3" height="18" fill="#fff" />
<rect x="1284" y="177" width="1" height="39" fill="#000" />
<rect x="1282" y="186" width="5" height="19" fill="#000" />
<rect x="1292" y="147" width="1" height="68" fill="#000" />
<rect x="1290" y="155" width="5" height="50" fill="#000" />
<rect x="1291" y="156" width="3" height="48" fill="#fff" />
<rect x="1300" y="146" width="1" height="46" fill="#000" />
<rect x="1298" y="154" width="5" height="34" fill="#000" />
<rect x="1308" y="133" width="1" height="57" fill="#000" />
<rect x="1306" y="137" width="5" height="51" fill="#000" />
<rect x="1307" y="138" width="3" height="49" fill="#fff" />
<rect x="1316" y="127" width="1" height="22" fill="#000" />
<rect x="1314" y="132" width="5" height="6" fill="#000" />
<rect x="1315" y="133" width="3" height="4" fill="#fff" />
<rect x="1324" y="116" width="1" height="19" fill="#000" />
<rect x="1322" y="122" width="5" height="12" fill="#000" />
<rect x="1323" y="123" width="3" height="10" fill="#fff" />
<rect x="1332" y="120" width="1" height="11" fill="#000" />
<rect x="1330" y="123" width="5" height="2" fill="#000" />
<rect x="1340" y="114" width="1" height="15" fill="#000" />
<rect x="1338" y="122" width="5" height="3" fill="#000" />
<rect x="1339" y="123" width="3" height="1" fill="#fff" />
<rect x="1348" y="106" width="1" height="24" fill="#000" />
<rect x="1346" y="118" width="5" height="6" fill="#000" />
<rect x="1347" y="119" width="3" height="4" fill="#fff" />
<rect x="1356" y="118" width="1" height="48" fill="#000" />
<rect x="1354" y="118" width="5" height="28" fill="#000" />
<rect x="1364" y="111" width="1" height="47" fill="#000" />
<rect x="1362" y="127" width="5" height="19" fill="#000" />
<rect x="1363" y="128" width="3" height="17" fill="#fff" />
<rect x="1372" y="110" width="1" height="18" fill="#000" />
<rect x="1370" y="115" width="5" height="13" fill="#000" />
<rect x="1371" y="116" width="3" height="11" fill="#fff" />
<rect x="1380" y="107" width="1" height="13" fill="#000" />
<rect x="1378" y="113" width="5" height="3" fill="#000" />
<rect x="1379" y="114" width="3" height="1" fill="#fff" />
<rect x="1388" y="98" width="1" height="21" fill="#000" />
<rect x="1386" y="99" width="5" height="16" fill="#000" />
<rect x="1387" y="100" width="3" height="14" fill="#fff" />
<rect x="1396" y="84" width="1" height="19" fill="#000" />
<rect x="1394" y="84" width="5" height="17" fill="#000" />
<rect x="1395" y="85" width="3" height="15" fill="#fff" />
<rect x="1404" y="57" width="1" height="45" fill="#000" />
<rect x="1402" y="81" width="5" height="3" fill="#000" />
<rect x="1403" y="82" width="3" height="1" fill="#fff" />
<rect x="1412" y="56" width="1" height="30" fill="#000" />
<rect x="1410" y="67" width="5" height="17" fill="#000" />
<rect x="1411" y="68" width="3" height="15" fill="#fff" />
<rect x="1420" y="63" width="1" height="9" fill="#000" />
<rect x="1418" y="66" width="5" height="4" fill="#000" />
</g>
<g shape-rendering="crispEdges">
<rect x="1649.5" y="31.5" width="4" height="4" fill="#fff" stroke="#ff0000" stroke-width="1"/>
<rect x="1649.5" y="49.5" width="4" height="4" fill="#fff" stroke="#ff0000" stroke-width="1"/>
<rect x="1649.5" y="74.5" width="4" height="4" fill="#fff" stroke="#32cd32" stroke-width="1"/>
<rect x="1649.5" y="95.5" width="4" height="4" fill="#fff" stroke="#0000ff" stroke-width="1"/>
<rect x="1649.5" y="111.5" width="4" height="4" fill="#fff" stroke="#0000ff" stroke-width="1"/>
</g>
<g clip-path="url(#cm)">
<g shape-rendering="crispEdges">
<rect x="1147" y="59" width="10" height="1" fill="#ff0000"/>
<rect x="1090" y="156" width="11" height="1" fill="#ff0000"/>
<rect x="1210" y="400" width="11" height="1" fill="#ff0000"/>
<rect x="186" y="581" width="11" height="1" fill="#ff0000"/>
<rect x="1402" y="56" width="10" height="1" fill="#ff0000"/>
<rect x="1221" y="76" width="10" height="1" fill="#ff0000"/>
</g>
<rect x="1402.5" y="53.5" width="3" height="4" fill="#fff" stroke="#ff0000" stroke-width="1" shape-rendering="crispEdges"/>
<rect x="1227.5" y="74.5" width="3" height="3" fill="#fff" stroke="#ff0000" stroke-width="1" shape-rendering="crispEdges"/>
<rect x="1085.5" y="50.5" width="61" height="18" fill="#fff" stroke="#ff0000" stroke-width="1" shape-rendering="crispEdges"/>
<text x="1116.0" y="66" font-size="16" fill="#ff0000" text-anchor="middle" font-weight="normal" textLength="58" lengthAdjust="spacingAndGlyphs" >34974.6</text>
<rect x="1029.5" y="147.5" width="61" height="18" fill="#fff" stroke="#ff0000" stroke-width="1" shape-rendering="crispEdges"/>
<text x="1060.0" y="163" font-size="16" fill="#ff0000" text-anchor="middle" font-weight="normal" textLength="58" lengthAdjust="spacingAndGlyphs" >34587.6</text>
<rect x="1149.5" y="391.5" width="61" height="18" fill="#fff" stroke="#ff0000" stroke-width="1" shape-rendering="crispEdges"/>
<text x="1180.0" y="407" font-size="16" fill="#ff0000" text-anchor="middle" font-weight="normal" textLength="58" lengthAdjust="spacingAndGlyphs" >33619.2</text>
<rect x="125.5" y="572.5" width="61" height="18" fill="#fff" stroke="#ff0000" stroke-width="1" shape-rendering="crispEdges"/>
<text x="156.0" y="588" font-size="16" fill="#ff0000" text-anchor="middle" font-weight="normal" textLength="58" lengthAdjust="spacingAndGlyphs" >32899.8</text>
<rect x="1341.5" y="47.5" width="61" height="18" fill="#fff" stroke="#ff0000" stroke-width="1" shape-rendering="crispEdges"/>
<text x="1372.0" y="63" font-size="16" fill="#ff0000" text-anchor="middle" font-weight="normal" textLength="58" lengthAdjust="spacingAndGlyphs" >34984.9</text>
<rect x="1231.5" y="64.5" width="73" height="24" fill="#fff" stroke="#ff0000" stroke-width="1" shape-rendering="crispEdges"/>
<text x="1268.0" y="84.5" font-size="20" fill="#ff0000" text-anchor="middle" font-weight="normal" textLength="69" lengthAdjust="spacingAndGlyphs" stroke="#ff0000" stroke-width="0.3">34905.5</text>
<rect x="1328" y="74" width="129" height="7" fill="#00ff00" shape-rendering="crispEdges"/>
<line x1="1216" y1="400" x2="1400" y2="77" stroke="#ff0000" stroke-width="2.9"/>
<polygon points="1407,66 1394,74 1403,80" fill="#ff0000"/>
<rect x="1501.5" y="75.5" width="110" height="24" fill="none" stroke="#404040" stroke-width="1" shape-rendering="crispEdges"/>
<path transform="translate(1503.00,77.00) scale(1.5417)" d="M5,0 L2,3 M4,1.2 L9,1.2 L3.5,6 M4.8,3 L6.8,4.2 M6.5,5 L2.5,8.5 M5.5,6.2 L11,6.2 L2.5,12 M6,8.2 L8,9.4" fill="none" stroke="#00ff00" stroke-width="0.843" stroke-linecap="square"/>
<path transform="translate(1524.30,77.00) scale(1.5417)" d="M6,0 L6,1.5 M1,4 L1,2 L11,2 L11,4 M4.5,3.5 L2,6 M7.5,3.5 L10,6 M3,7.5 L9,7.5 M6,7.5 L6,11 M1,11 L11,11" fill="none" stroke="#00ff00" stroke-width="0.843" stroke-linecap="square"/>
<path transform="translate(1545.60,77.00) scale(1.5417)" d="M0.5,2 L5,2 M2.8,0 L0.8,6 L5,6 M3,4 L3,12 M0,9 L5,8.5 M6,2.5 L11.5,2.5 M8.8,0 L7.8,7 M6,5 L12,5 M7.8,7 L11,7 L9,10 M8,9 L11,12" fill="none" stroke="#00ff00" stroke-width="0.843" stroke-linecap="square"/>
<path transform="translate(1566.90,77.00) scale(1.5417)" d="M0,3.5 L4.5,3.5 M2.5,0 L2.5,11.5 L1.5,10.8 M0,8.2 L4.5,6.2 M11,0.5 L6.5,2 L6.5,6 L5.2,12 M6.5,5 L12,5 M9.5,5 L9.5,12" fill="none" stroke="#00ff00" stroke-width="0.843" stroke-linecap="square"/>
<path transform="translate(1588.20,77.00) scale(1.5417)" d="M6,0 L6,5 M6,2.5 L10,2.5 M2.5,5 L2.5,9 L9.5,9 L9.5,5 Z M1.5,10.5 L0.5,12 M4.5,10.5 L5,12 M7,10.5 L7.5,12 M10,10.5 L11,12" fill="none" stroke="#00ff00" stroke-width="0.843" stroke-linecap="square"/>
<polygon points="1416,29 1426,29 1421,34" fill="#b0b0b0"/>
</g>
<g shape-rendering="crispEdges">
<rect x="0" y="28" width="1655" height="1" fill="#000"/>
<rect x="0" y="595" width="1655" height="1" fill="#000"/>
<rect x="1654" y="28" width="1" height="568" fill="#000"/>
<rect x="0" y="597" width="1655" height="1" fill="#000"/>
<rect x="0" y="753" width="1655" height="1" fill="#000"/>
<rect x="1654" y="597" width="1" height="157" fill="#000"/>
<rect x="0" y="755" width="1655" height="1" fill="#000"/>
<rect x="0" y="929" width="1655" height="1" fill="#000"/>
<rect x="1654" y="755" width="1" height="175" fill="#000"/>
</g>
<g font-family='"Liberation Sans", sans-serif'>
<rect x="1655" y="130" width="3" height="1" fill="#000" shape-rendering="crispEdges"/>
<text x="1660" y="134.5" font-size="10" fill="#000" text-anchor="start" font-weight="normal" textLength="33" lengthAdjust="spacingAndGlyphs" >34694.0</text>
<rect x="1655" y="163" width="3" height="1" fill="#000" shape-rendering="crispEdges"/>
<text x="1660" y="167.5" font-size="10" fill="#000" text-anchor="start" font-weight="normal" textLength="33" lengthAdjust="spacingAndGlyphs" >34561.0</text>
<rect x="1655" y="196" width="3" height="1" fill="#000" shape-rendering="crispEdges"/>
<text x="1660" y="200.5" font-size="10" fill="#000" text-anchor="start" font-weight="normal" textLength="33" lengthAdjust="spacingAndGlyphs" >34431.5</text>
<rect x="1655" y="229" width="3" height="1" fill="#000" shape-rendering="crispEdges"/>
<text x="1660" y="233.5" font-size="10" fill="#000" text-anchor="start" font-weight="normal" textLength="33" lengthAdjust="spacingAndGlyphs" >34298.5</text>
<rect x="1655" y="262" width="3" height="1" fill="#000" shape-rendering="crispEdges"/>
<text x="1660" y="266.5" font-size="10" fill="#000" text-anchor="start" font-weight="normal" textLength="33" lengthAdjust="spacingAndGlyphs" >34165.5</text>
<rect x="1655" y="295" width="3" height="1" fill="#000" shape-rendering="crispEdges"/>
<text x="1660" y="299.5" font-size="10" fill="#000" text-anchor="start" font-weight="normal" textLength="33" lengthAdjust="spacingAndGlyphs" >34036.0</text>
<rect x="1655" y="328" width="3" height="1" fill="#000" shape-rendering="crispEdges"/>
<text x="1660" y="332.5" font-size="10" fill="#000" text-anchor="start" font-weight="normal" textLength="33" lengthAdjust="spacingAndGlyphs" >33906.5</text>
<rect x="1655" y="361" width="3" height="1" fill="#000" shape-rendering="crispEdges"/>
<text x="1660" y="365.5" font-size="10" fill="#000" text-anchor="start" font-weight="normal" textLength="33" lengthAdjust="spacingAndGlyphs" >33773.5</text>
<rect x="1655" y="394" width="3" height="1" fill="#000" shape-rendering="crispEdges"/>
<text x="1660" y="398.5" font-size="10" fill="#000" text-anchor="start" font-weight="normal" textLength="33" lengthAdjust="spacingAndGlyphs" >33644.0</text>
<rect x="1655" y="427" width="3" height="1" fill="#000" shape-rendering="crispEdges"/>
<text x="1660" y="431.5" font-size="10" fill="#000" text-anchor="start" font-weight="normal" textLength="33" lengthAdjust="spacingAndGlyphs" >33511.0</text>
<rect x="1655" y="460" width="3" height="1" fill="#000" shape-rendering="crispEdges"/>
<text x="1660" y="464.5" font-size="10" fill="#000" text-anchor="start" font-weight="normal" textLength="33" lengthAdjust="spacingAndGlyphs" >33381.5</text>
<rect x="1655" y="493" width="3" height="1" fill="#000" shape-rendering="crispEdges"/>
<text x="1660" y="497.5" font-size="10" fill="#000" text-anchor="start" font-weight="normal" textLength="33" lengthAdjust="spacingAndGlyphs" >33248.5</text>
<rect x="1655" y="526" width="3" height="1" fill="#000" shape-rendering="crispEdges"/>
<text x="1660" y="530.5" font-size="10" fill="#000" text-anchor="start" font-weight="normal" textLength="33" lengthAdjust="spacingAndGlyphs" >33119.0</text>
<rect x="1655" y="559" width="3" height="1" fill="#000" shape-rendering="crispEdges"/>
<text x="1660" y="563.5" font-size="10" fill="#000" text-anchor="start" font-weight="normal" textLength="33" lengthAdjust="spacingAndGlyphs" >32986.0</text>
<rect x="1655" y="592" width="3" height="1" fill="#000" shape-rendering="crispEdges"/>
<text x="1660" y="596.5" font-size="10" fill="#000" text-anchor="start" font-weight="normal" textLength="33" lengthAdjust="spacingAndGlyphs" >32856.5</text>
<rect x="1656" y="27" width="41" height="11" fill="#ff0000" shape-rendering="crispEdges"/><text x="1660" y="36" font-size="10" fill="#fff" text-anchor="start" font-weight="normal" textLength="33" lengthAdjust="spacingAndGlyphs" >35076.1</text>
<rect x="1656" y="45" width="41" height="11" fill="#ff0000" shape-rendering="crispEdges"/><text x="1660" y="54" font-size="10" fill="#fff" text-anchor="start" font-weight="normal" textLength="33" lengthAdjust="spacingAndGlyphs" >35004.7</text>
<text x="1660" y="68.5" font-size="10" fill="#000" text-anchor="start" font-weight="normal" textLength="33" lengthAdjust="spacingAndGlyphs" >34953.0</text>
<rect x="1656" y="63" width="41" height="7" fill="#000" shape-rendering="crispEdges"/>
<text x="1660" y="71" font-size="10" fill="#fff" text-anchor="start" font-weight="normal" textLength="33" lengthAdjust="spacingAndGlyphs" >34939.0</text>
<rect x="1656" y="70" width="41" height="11" fill="#32cd32" shape-rendering="crispEdges"/><text x="1660" y="79" font-size="10" fill="#fff" text-anchor="start" font-weight="normal" textLength="33" lengthAdjust="spacingAndGlyphs" >34905.5</text>
<rect x="1656" y="91" width="41" height="11" fill="#0000ff" shape-rendering="crispEdges"/><text x="1660" y="100" font-size="10" fill="#fff" text-anchor="start" font-weight="normal" textLength="33" lengthAdjust="spacingAndGlyphs" >34822.2</text>
<rect x="1656" y="107" width="41" height="11" fill="#0000ff" shape-rendering="crispEdges"/><text x="1660" y="116" font-size="10" fill="#fff" text-anchor="start" font-weight="normal" textLength="33" lengthAdjust="spacingAndGlyphs" >34758.7</text>
<text x="11" y="40" font-size="10" fill="#000" text-anchor="start" font-weight="normal" textLength="185.5" lengthAdjust="spacingAndGlyphs" >DJ30-,H4&#160;&#160;34948.0 34958.0 34932.0 34939.0</text>
<polygon points="0,40 3,35 6,40" fill="#000"/>
</g>
<g clip-path="url(#cd)" shape-rendering="crispEdges">
<rect x="4" y="654" width="1" height="9" fill="#c0c0c0" />
<rect x="12" y="654" width="1" height="10" fill="#c0c0c0" />
<rect x="20" y="654" width="1" height="14" fill="#c0c0c0" />
<rect x="28" y="654" width="1" height="16" fill="#c0c0c0" />
<rect x="36" y="654" width="1" height="20" fill="#c0c0c0" />
<rect x="44" y="654" width="1" height="23" fill="#c0c0c0" />
<rect x="52" y="654" width="1" height="24" fill="#c0c0c0" />
<rect x="60" y="654" width="1" height="26" fill="#c0c0c0" />
<rect x="68" y="654" width="1" height="27" fill="#c0c0c0" />
<rect x="76" y="654" width="1" height="32" fill="#c0c0c0" />
<rect x="84" y="654" width="1" height="40" fill="#c0c0c0" />
<rect x="92" y="654" width="1" height="45" fill="#c0c0c0" />
<rect x="100" y="654" width="1" height="47" fill="#c0c0c0" />
<rect x="108" y="654" width="1" height="51" fill="#c0c0c0" />
<rect x="116" y="654" width="1" height="55" fill="#c0c0c0" />
<rect x="124" y="654" width="1" height="58" fill="#c0c0c0" />
<rect x="132" y="654" width="1" height="58" fill="#c0c0c0" />
<rect x="140" y="654" width="1" height="55" fill="#c0c0c0" />
<rect x="148" y="654" width="1" height="52" fill="#c0c0c0" />
<rect x="156" y="654" width="1" height="59" fill="#c0c0c0" />
<rect x="164" y="654" width="1" height="66" fill="#c0c0c0" />
<rect x="172" y="654" width="1" height="75" fill="#c0c0c0" />
<rect x="180" y="654" width="1" height="79" fill="#c0c0c0" />
<rect x="188" y="654" width="1" height="85" fill="#c0c0c0" />
<rect x="196" y="654" width="1" height="90" fill="#c0c0c0" />
<rect x="204" y="654" width="1" height="88" fill="#c0c0c0" />
<rect x="212" y="654" width="1" height="82" fill="#c0c0c0" />
<rect x="220" y="654" width="1" height="68" fill="#c0c0c0" />
<rect x="228" y="654" width="1" height="55" fill="#c0c0c0" />
<rect x="236" y="654" width="1" height="43" fill="#c0c0c0" />
<rect x="244" y="654" width="1" height="32" fill="#c0c0c0" />
<rect x="252" y="654" width="1" height="26" fill="#c0c0c0" />
<rect x="260" y="654" width="1" height="20" fill="#c0c0c0" />
<rect x="268" y="654" width="1" height="15" fill="#c0c0c0" />
<rect x="276" y="654" width="1" height="9" fill="#c0c0c0" />
<rect x="284" y="654" width="1" height="4" fill="#c0c0c0" />
<rect x="292" y="654" width="1" height="1" fill="#c0c0c0" />
<rect x="300" y="649" width="1" height="5" fill="#c0c0c0" />
<rect x="308" y="648" width="1" height="6" fill="#c0c0c0" />
<rect x="316" y="646" width="1" height="8" fill="#c0c0c0" />
<rect x="324" y="648" width="1" height="6" fill="#c0c0c0" />
<rect x="332" y="648" width="1" height="6" fill="#c0c0c0" />
<rect x="340" y="646" width="1" height="8" fill="#c0c0c0" />
<rect x="348" y="645" width="1" height="9" fill="#c0c0c0" />
<rect x="356" y="643" width="1" height="11" fill="#c0c0c0" />
<rect x="364" y="640" width="1" height="14" fill="#c0c0c0" />
<rect x="372" y="635" width="1" height="19" fill="#c0c0c0" />
<rect x="380" y="629" width="1" height="25" fill="#c0c0c0" />
<rect x="388" y="623" width="1" height="31" fill="#c0c0c0" />
<rect x="396" y="621" width="1" height="33" fill="#c0c0c0" />
<rect x="404" y="620" width="1" height="34" fill="#c0c0c0" />
<rect x="412" y="616" width="1" height="38" fill="#c0c0c0" />
<rect x="420" y="612" width="1" height="42" fill="#c0c0c0" />
<rect x="428" y="610" width="1" height="44" fill="#c0c0c0" />
<rect x="436" y="607" width="1" height="47" fill="#c0c0c0" />
<rect x="444" y="606" width="1" height="48" fill="#c0c0c0" />
<rect x="452" y="607" width="1" height="47" fill="#c0c0c0" />
<rect x="460" y="609" width="1" height="45" fill="#c0c0c0" />
<rect x="468" y="615" width="1" height="39" fill="#c0c0c0" />
<rect x="476" y="619" width="1" height="35" fill="#c0c0c0" />
<rect x="484" y="623" width="1" height="31" fill="#c0c0c0" />
<rect x="492" y="627" width="1" height="27" fill="#c0c0c0" />
<rect x="500" y="629" width="1" height="25" fill="#c0c0c0" />
<rect x="508" y="630" width="1" height="24" fill="#c0c0c0" />
<rect x="516" y="631" width="1" height="23" fill="#c0c0c0" />
<rect x="524" y="634" width="1" height="20" fill="#c0c0c0" />
<rect x="532" y="635" width="1" height="19" fill="#c0c0c0" />
<rect x="540" y="636" width="1" height="18" fill="#c0c0c0" />
<rect x="548" y="637" width="1" height="17" fill="#c0c0c0" />
<rect x="556" y="640" width="1" height="14" fill="#c0c0c0" />
<rect x="564" y="637" width="1" height="17" fill="#c0c0c0" />
<rect x="572" y="634" width="1" height="20" fill="#c0c0c0" />
<rect x="580" y="631" width="1" height="23" fill="#c0c0c0" />
<rect x="588" y="628" width="1" height="26" fill="#c0c0c0" />
<rect x="596" y="625" width="1" height="29" fill="#c0c0c0" />
<rect x="604" y="624" width="1" height="30" fill="#c0c0c0" />
<rect x="612" y="624" width="1" height="30" fill="#c0c0c0" />
<rect x="620" y="622" width="1" height="32" fill="#c0c0c0" />
<rect x="628" y="622" width="1" height="32" fill="#c0c0c0" />
<rect x="636" y="621" width="1" height="33" fill="#c0c0c0" />
<rect x="644" y="620" width="1" height="34" fill="#c0c0c0" />
<rect x="652" y="620" width="1" height="34" fill="#c0c0c0" />
<rect x="660" y="620" width="1" height="34" fill="#c0c0c0" />
<rect x="668" y="618" width="1" height="36" fill="#c0c0c0" />
<rect x="676" y="617" width="1" height="37" fill="#c0c0c0" />
<rect x="684" y="617" width="1" height="37" fill="#c0c0c0" />
<rect x="692" y="618" width="1" height="36" fill="#c0c0c0" />
<rect x="700" y="620" width="1" height="34" fill="#c0c0c0" />
<rect x="708" y="619" width="1" height="35" fill="#c0c0c0" />
<rect x="716" y="619" width="1" height="35" fill="#c0c0c0" />
<rect x="724" y="619" width="1" height="35" fill="#c0c0c0" />
<rect x="732" y="620" width="1" height="34" fill="#c0c0c0" />
<rect x="740" y="620" width="1" height="34" fill="#c0c0c0" />
<rect x="748" y="622" width="1" height="32" fill="#c0c0c0" />
<rect x="756" y="625" width="1" height="29" fill="#c0c0c0" />
<rect x="764" y="634" width="1" height="20" fill="#c0c0c0" />
<rect x="772" y="640" width="1" height="14" fill="#c0c0c0" />
<rect x="780" y="645" width="1" height="9" fill="#c0c0c0" />
<rect x="788" y="649" width="1" height="5" fill="#c0c0c0" />
<rect x="796" y="651" width="1" height="3" fill="#c0c0c0" />
<rect x="804" y="652" width="1" height="2" fill="#c0c0c0" />
<rect x="812" y="652" width="1" height="2" fill="#c0c0c0" />
<rect x="820" y="651" width="1" height="3" fill="#c0c0c0" />
<rect x="828" y="649" width="1" height="5" fill="#c0c0c0" />
<rect x="836" y="650" width="1" height="4" fill="#c0c0c0" />
<rect x="844" y="654" width="1" height="4" fill="#c0c0c0" />
<rect x="852" y="654" width="1" height="14" fill="#c0c0c0" />
<rect x="860" y="654" width="1" height="15" fill="#c0c0c0" />
<rect x="868" y="654" width="1" height="16" fill="#c0c0c0" />
<rect x="876" y="654" width="1" height="17" fill="#c0c0c0" />
<rect x="884" y="654" width="1" height="20" fill="#c0c0c0" />
<rect x="892" y="654" width="1" height="17" fill="#c0c0c0" />
<rect x="900" y="654" width="1" height="11" fill="#c0c0c0" />
<rect x="908" y="651" width="1" height="3" fill="#c0c0c0" />
<rect x="916" y="649" width="1" height="5" fill="#c0c0c0" />
<rect x="924" y="642" width="1" height="12" fill="#c0c0c0" />
<rect x="932" y="637" width="1" height="17" fill="#c0c0c0" />
<rect x="940" y="635" width="1" height="19" fill="#c0c0c0" />
<rect x="948" y="636" width="1" height="18" fill="#c0c0c0" />
<rect x="956" y="637" width="1" height="17" fill="#c0c0c0" />
<rect x="964" y="632" width="1" height="22" fill="#c0c0c0" />
<rect x="972" y="628" width="1" height="26" fill="#c0c0c0" />
<rect x="980" y="624" width="1" height="30" fill="#c0c0c0" />
<rect x="988" y="623" width="1" height="31" fill="#c0c0c0" />
<rect x="996" y="622" width="1" height="32" fill="#c0c0c0" />
<rect x="1004" y="621" width="1" height="33" fill="#c0c0c0" />
<rect x="1012" y="622" width="1" height="32" fill="#c0c0c0" />
<rect x="1020" y="625" width="1" height="29" fill="#c0c0c0" />
<rect x="1028" y="627" width="1" height="27" fill="#c0c0c0" />
<rect x="1036" y="629" width="1" height="25" fill="#c0c0c0" />
<rect x="1044" y="632" width="1" height="22" fill="#c0c0c0" />
<rect x="1052" y="633" width="1" height="21" fill="#c0c0c0" />
<rect x="1060" y="634" width="1" height="20" fill="#c0c0c0" />
<rect x="1068" y="635" width="1" height="19" fill="#c0c0c0" />
<rect x="1076" y="636" width="1" height="18" fill="#c0c0c0" />
<rect x="1084" y="638" width="1" height="16" fill="#c0c0c0" />
<rect x="1092" y="641" width="1" height="13" fill="#c0c0c0" />
<rect x="1100" y="644" width="1" height="10" fill="#c0c0c0" />
<rect x="1108" y="643" width="1" height="11" fill="#c0c0c0" />
<rect x="1116" y="642" width="1" height="12" fill="#c0c0c0" />
<rect x="1124" y="641" width="1" height="13" fill="#c0c0c0" />
<rect x="1132" y="640" width="1" height="14" fill="#c0c0c0" />
<rect x="1140" y="640" width="1" height="14" fill="#c0c0c0" />
<rect x="1148" y="639" width="1" height="15" fill="#c0c0c0" />
<rect x="1156" y="640" width="1" height="14" fill="#c0c0c0" />
<rect x="1164" y="646" width="1" height="8" fill="#c0c0c0" />
<rect x="1172" y="654" width="1" height="1" fill="#c0c0c0" />
<rect x="1180" y="654" width="1" height="6" fill="#c0c0c0" />
<rect x="1188" y="654" width="1" height="12" fill="#c0c0c0" />
<rect x="1196" y="654" width="1" height="19" fill="#c0c0c0" />
<rect x="1204" y="654" width="1" height="28" fill="#c0c0c0" />
<rect x="1212" y="654" width="1" height="43" fill="#c0c0c0" />
<rect x="1220" y="654" width="1" height="53" fill="#c0c0c0" />
<rect x="1228" y="654" width="1" height="59" fill="#c0c0c0" />
<rect x="1236" y="654" width="1" height="64" fill="#c0c0c0" />
<rect x="1244" y="654" width="1" height="62" fill="#c0c0c0" />
<rect x="1252" y="654" width="1" height="61" fill="#c0c0c0" />
<rect x="1260" y="654" width="1" height="50" fill="#c0c0c0" />
<rect x="1268" y="654" width="1" height="41" fill="#c0c0c0" />
<rect x="1276" y="654" width="1" height="31" fill="#c0c0c0" />
<rect x="1284" y="654" width="1" height="26" fill="#c0c0c0" />
<rect x="1292" y="654" width="1" height="17" fill="#c0c0c0" />
<rect x="1300" y="654" width="1" height="12" fill="#c0c0c0" />
<rect x="1308" y="654" width="1" height="4" fill="#c0c0c0" />
<rect x="1316" y="654" width="1" height="1" fill="#c0c0c0" />
<rect x="1324" y="646" width="1" height="8" fill="#c0c0c0" />
<rect x="1332" y="641" width="1" height="13" fill="#c0c0c0" />
<rect x="1340" y="637" width="1" height="17" fill="#c0c0c0" />
<rect x="1348" y="634" width="1" height="20" fill="#c0c0c0" />
<rect x="1356" y="634" width="1" height="20" fill="#c0c0c0" />
<rect x="1364" y="633" width="1" height="21" fill="#c0c0c0" />
<rect x="1372" y="631" width="1" height="23" fill="#c0c0c0" />
<rect x="1380" y="629" width="1" height="25" fill="#c0c0c0" />
<rect x="1388" y="627" width="1" height="27" fill="#c0c0c0" />
<rect x="1396" y="625" width="1" height="29" fill="#c0c0c0" />
<rect x="1404" y="623" width="1" height="31" fill="#c0c0c0" />
<rect x="1412" y="619" width="1" height="35" fill="#c0c0c0" />
<rect x="1420" y="617" width="1" height="37" fill="#c0c0c0" />
</g>
<g clip-path="url(#cd)">
<path d="M0.0,664.5 C2.3,664.6 9.3,664.9 14.0,665.4 C18.7,665.9 23.3,666.7 28.0,667.3 C32.7,667.9 37.3,668.4 42.0,669.0 C46.7,669.6 51.5,670.3 56.0,671.0 C60.5,671.7 64.2,671.6 69.0,673.0 C73.8,674.4 80.0,677.5 85.0,679.5 C90.0,681.5 94.3,682.9 99.0,685.0 C103.7,687.1 108.3,689.7 113.0,692.0 C117.7,694.3 122.3,696.9 127.0,699.0 C131.7,701.1 136.3,703.2 141.0,704.9 C145.7,706.6 150.3,707.6 155.0,709.0 C159.7,710.4 164.3,711.6 169.0,713.3 C173.7,715.0 178.3,716.9 183.0,719.0 C187.7,721.1 192.2,724.2 197.0,726.0 C201.8,727.8 207.2,729.2 212.0,730.0 C216.8,730.8 221.3,731.8 226.0,731.0 C230.7,730.2 235.3,727.9 240.0,725.4 C244.7,722.9 249.3,719.9 254.0,716.0 C258.7,712.1 263.3,706.9 268.0,702.0 C272.7,697.1 277.3,691.2 282.0,686.5 C286.7,681.8 291.3,678.0 296.0,673.8 C300.7,669.5 305.3,664.0 310.0,661.0 C314.7,658.0 319.3,657.1 324.0,655.5 C328.7,653.9 333.3,652.6 338.0,651.3 C342.7,650.0 347.2,648.7 352.0,647.6 C356.8,646.5 362.2,645.8 367.0,644.8 C371.8,643.8 376.3,642.7 381.0,641.4 C385.7,640.1 390.3,638.9 395.0,637.2 C399.7,635.6 404.3,633.6 409.0,631.5 C413.7,629.4 418.3,626.9 423.0,624.5 C427.7,622.1 432.3,619.4 437.0,617.4 C441.7,615.4 446.3,613.8 451.0,612.6 C455.7,611.4 460.3,610.8 465.0,610.4 C469.7,610.0 475.8,610.1 479.0,610.4 C482.2,610.7 480.8,611.2 484.0,612.0 C487.2,612.8 493.3,614.0 498.0,615.3 C502.7,616.6 507.3,618.4 512.0,619.8 C516.7,621.2 521.2,622.4 526.0,623.8 C530.8,625.2 536.2,627.1 541.0,628.3 C545.8,629.5 550.3,630.1 555.0,631.0 C559.7,631.9 564.3,632.8 569.0,633.4 C573.7,634.0 578.3,634.6 583.0,634.5 C587.7,634.4 592.3,633.7 597.0,633.0 C601.7,632.3 606.3,631.1 611.0,630.3 C615.7,629.5 620.3,629.2 625.0,628.3 C629.7,627.3 634.3,625.7 639.0,624.6 C643.7,623.5 648.3,622.6 653.0,621.8 C657.7,621.0 662.2,620.3 667.0,619.8 C671.8,619.3 677.2,619.3 682.0,619.0 C686.8,618.7 689.0,618.2 696.0,618.1 C703.0,618.0 714.7,618.1 724.0,618.1 C733.3,618.1 746.0,618.0 752.0,618.1 C758.0,618.2 755.3,617.9 760.0,619.0 C764.7,620.1 774.3,622.7 780.0,624.6 C785.7,626.5 789.3,628.3 794.0,630.3 C798.7,632.3 803.3,634.4 808.0,636.7 C812.7,639.1 817.2,642.4 822.0,644.4 C826.8,646.4 832.2,647.2 837.0,648.6 C841.8,650.0 846.3,651.6 851.0,652.8 C855.7,654.0 860.3,654.3 865.0,655.6 C869.7,656.9 874.3,659.0 879.0,660.4 C883.7,661.8 888.3,662.9 893.0,664.0 C897.7,665.1 902.3,666.9 907.0,666.9 C911.7,666.9 916.3,665.7 921.0,664.0 C925.7,662.3 930.3,658.8 935.0,656.5 C939.7,654.2 945.8,651.2 949.0,650.0 C952.2,648.8 950.8,650.8 954.0,649.1 C957.2,647.4 963.3,642.5 968.0,640.0 C972.7,637.5 977.3,635.6 982.0,634.0 C986.7,632.4 991.3,631.5 996.0,630.3 C1000.7,629.1 1005.2,627.6 1010.0,626.6 C1014.8,625.6 1020.2,624.6 1025.0,624.0 C1029.8,623.4 1034.3,623.1 1039.0,623.2 C1043.7,623.3 1048.3,623.9 1053.0,624.6 C1057.7,625.3 1062.3,626.5 1067.0,627.4 C1071.7,628.3 1076.3,629.1 1081.0,630.3 C1085.7,631.5 1090.3,633.3 1095.0,634.5 C1099.7,635.7 1104.3,636.5 1109.0,637.3 C1113.7,638.1 1118.3,638.9 1123.0,639.3 C1127.7,639.7 1132.3,639.5 1137.0,639.6 C1141.7,639.7 1146.2,639.9 1151.0,640.1 C1155.8,640.3 1161.2,640.1 1166.0,640.7 C1170.8,641.3 1175.3,642.2 1180.0,643.5 C1184.7,644.8 1189.3,646.2 1194.0,648.6 C1198.7,651.0 1203.3,653.9 1208.0,657.6 C1212.7,661.4 1217.3,666.5 1222.0,671.1 C1226.7,675.7 1231.3,681.0 1236.0,685.2 C1240.7,689.4 1245.3,693.2 1250.0,696.5 C1254.7,699.8 1259.3,703.5 1264.0,705.0 C1268.7,706.5 1273.3,706.2 1278.0,705.5 C1282.7,704.8 1287.2,703.2 1292.0,700.8 C1296.8,698.4 1302.2,695.0 1307.0,690.9 C1311.8,686.8 1316.3,681.1 1321.0,676.2 C1325.7,671.3 1330.3,665.4 1335.0,661.3 C1339.7,657.2 1344.3,654.2 1349.0,651.4 C1353.7,648.6 1358.3,646.5 1363.0,644.4 C1367.7,642.3 1372.3,640.6 1377.0,638.7 C1381.7,636.8 1386.3,634.5 1391.0,633.0 C1395.7,631.5 1400.3,630.3 1405.0,629.4 C1409.7,628.5 1416.7,627.7 1419.0,627.4" fill="none" stroke="#ff0000" stroke-width="1" stroke-dasharray="3,2" shape-rendering="crispEdges"/>
<line x1="1241" y1="705.5" x2="1410" y2="616" stroke="#ff0000" stroke-width="3"/>
<polygon points="1420,611.5 1407,612.3 1411.6,619.7" fill="#ff0000"/>
</g>
<g font-family='"Liberation Sans", sans-serif'>
<text x="1" y="610" font-size="10" fill="#000" text-anchor="start" font-weight="normal" textLength="121" lengthAdjust="spacingAndGlyphs" >MACD(12,26,9) 117.28 88.94</text>
<rect x="1655" y="599" width="3" height="1" fill="#000" shape-rendering="crispEdges"/>
<text x="1658" y="608" font-size="10" fill="#000" text-anchor="start" font-weight="normal" textLength="22" lengthAdjust="spacingAndGlyphs" >179.1</text>
<rect x="1655" y="653" width="3" height="1" fill="#000" shape-rendering="crispEdges"/>
<text x="1660" y="657" font-size="10" fill="#000" text-anchor="start" font-weight="normal" textLength="17" lengthAdjust="spacingAndGlyphs" >0.00</text>
<rect x="1655" y="752" width="3" height="1" fill="#000" shape-rendering="crispEdges"/>
<text x="1658" y="750" font-size="10" fill="#000" text-anchor="start" font-weight="normal" textLength="31" lengthAdjust="spacingAndGlyphs" >-329.19</text>
</g>
<g clip-path="url(#cr)">
<line x1="0" y1="791.5" x2="1654" y2="791.5" stroke="#c0c0c0" stroke-width="1" stroke-dasharray="3,3" stroke-dashoffset="3" shape-rendering="crispEdges"/>
<line x1="0" y1="842.5" x2="1654" y2="842.5" stroke="#c0c0c0" stroke-width="1" stroke-dasharray="3,3" stroke-dashoffset="3" shape-rendering="crispEdges"/>
<line x1="0" y1="903.5" x2="1654" y2="903.5" stroke="#c0c0c0" stroke-width="1" stroke-dasharray="3,3" stroke-dashoffset="3" shape-rendering="crispEdges"/>
<polyline points="0,848.1 4.5,848.1 12.5,851.5 20.5,868.4 28.5,859.4 36.5,868.4 44.5,868.4 52.5,869.9 60.5,870.7 68.5,864.2 76.5,882.5 84.5,887.6 92.5,887.6 100.5,889.6 108.5,882.0 116.5,890.4 124.5,882.5 132.5,881.1 140.5,877.5 148.5,882.0 156.5,886.8 164.5,896.1 172.5,900.9 180.5,899.5 188.5,900.9 196.5,905.1 204.5,869.9 212.5,864.2 220.5,841.7 228.5,838.0 236.5,836.9 244.5,834.0 252.5,840.8 260.5,837.4 268.5,838.8 276.5,834.6 284.5,832.3 292.5,829.5 300.5,831.8 308.5,834.0 316.5,840.2 324.5,843.6 332.5,838.8 340.5,834.6 348.5,833.2 356.5,827.6 364.5,824.7 372.5,817.7 380.5,810.6 388.5,808.7 396.5,816.3 404.5,816.3 412.5,807.8 420.5,806.4 428.5,805.0 436.5,802.2 444.5,809.8 452.5,814.3 460.5,817.7 468.5,837.4 476.5,836.0 484.5,835.2 492.5,839.7 500.5,830.4 508.5,830.4 516.5,828.4 524.5,837.4 532.5,832.3 540.5,832.3 548.5,835.2 556.5,841.7 564.5,822.8 572.5,816.3 580.5,811.5 588.5,811.5 596.5,807.8 604.5,813.5 612.5,816.3 620.5,810.6 628.5,814.3 636.5,810.6 644.5,810.6 652.5,817.1 660.5,807.8 668.5,804.4 676.5,807.8 684.5,810.6 692.5,814.3 700.5,817.1 708.5,809.2 716.5,806.4 724.5,814.3 732.5,810.6 740.5,810.6 748.5,821.1 756.5,826.7 764.5,865.1 772.5,850.1 780.5,857.2 788.5,851.0 796.5,847.3 804.5,844.5 812.5,841.7 820.5,835.4 828.5,836.9 836.5,845.3 844.5,869.9 852.5,878.3 860.5,853.8 868.5,853.8 876.5,855.8 884.5,860.0 892.5,844.5 900.5,834.0 908.5,823.3 916.5,822.8 924.5,821.9 932.5,820.5 940.5,830.4 948.5,836.9 956.5,836.0 964.5,821.9 972.5,819.9 980.5,819.1 988.5,821.1 996.5,823.3 1004.5,822.8 1012.5,823.9 1020.5,831.8 1028.5,836.0 1036.5,836.0 1044.5,837.4 1052.5,830.4 1060.5,839.7 1068.5,830.4 1076.5,832.3 1084.5,836.9 1092.5,844.5 1100.5,849.3 1108.5,832.3 1116.5,828.4 1124.5,835.2 1132.5,829.5 1140.5,828.4 1148.5,826.1 1156.5,838.8 1164.5,860.0 1172.5,864.2 1180.5,868.4 1188.5,870.7 1196.5,878.3 1204.5,886.8 1212.5,895.2 1220.5,894.4 1228.5,884.0 1236.5,886.8 1244.5,869.0 1252.5,867.9 1260.5,839.7 1268.5,842.5 1276.5,837.4 1284.5,842.5 1292.5,831.8 1300.5,839.7 1308.5,829.0 1316.5,828.4 1324.5,826.1 1332.5,826.1 1340.5,826.1 1348.5,824.7 1356.5,834.0 1364.5,829.5 1372.5,826.1 1380.5,826.1 1388.5,822.8 1396.5,818.2 1404.5,818.2 1412.5,816.3 1420.5,813.5" fill="none" stroke="#1e90ff" stroke-width="1" shape-rendering="crispEdges"/>
<line x1="1270.5" y1="834" x2="1410" y2="813" stroke="#ff0000" stroke-width="3"/>
<polygon points="1419,811.5 1406.3,809.3 1408.5,817.7" fill="#ff0000"/>
</g>
<g font-family='"Liberation Sans", sans-serif'>
<text x="1" y="767.5" font-size="10" fill="#000" text-anchor="start" font-weight="normal" textLength="66" lengthAdjust="spacingAndGlyphs" >RSI(14) 66.3289</text>
<rect x="1655" y="763" width="3" height="1" fill="#000" shape-rendering="crispEdges"/>
<text x="1658" y="767" font-size="10" fill="#000" text-anchor="start" font-weight="normal" >100</text>
<rect x="1655" y="791" width="3" height="1" fill="#000" shape-rendering="crispEdges"/>
<text x="1658" y="795" font-size="10" fill="#000" text-anchor="start" font-weight="normal" >80</text>
<rect x="1655" y="842" width="3" height="1" fill="#000" shape-rendering="crispEdges"/>
<text x="1658" y="846" font-size="10" fill="#000" text-anchor="start" font-weight="normal" >50</text>
<rect x="1655" y="903" width="3" height="1" fill="#000" shape-rendering="crispEdges"/>
<text x="1658" y="907" font-size="10" fill="#000" text-anchor="start" font-weight="normal" >15</text>
<rect x="1655" y="922" width="3" height="1" fill="#000" shape-rendering="crispEdges"/>
<text x="1658" y="926" font-size="10" fill="#000" text-anchor="start" font-weight="normal" >0</text>
<text x="-5" y="942" font-size="10" fill="#000" text-anchor="start" font-weight="normal" textLength="49.6" lengthAdjust="spacingAndGlyphs" >15 Jun 2021</text>
<rect x="60" y="930" width="1" height="3" fill="#000" shape-rendering="crispEdges"/>
<text x="59" y="942" font-size="10" fill="#000" text-anchor="start" font-weight="normal" textLength="52.1" lengthAdjust="spacingAndGlyphs" >16 Jun 08:00</text>
<rect x="124" y="930" width="1" height="3" fill="#000" shape-rendering="crispEdges"/>
<text x="123" y="942" font-size="10" fill="#000" text-anchor="start" font-weight="normal" textLength="52.1" lengthAdjust="spacingAndGlyphs" >17 Jun 16:00</text>
<rect x="188" y="930" width="1" height="3" fill="#000" shape-rendering="crispEdges"/>
<text x="187" y="942" font-size="10" fill="#000" text-anchor="start" font-weight="normal" textLength="52.1" lengthAdjust="spacingAndGlyphs" >20 Jun 23:00</text>
<rect x="252" y="930" width="1" height="3" fill="#000" shape-rendering="crispEdges"/>
<text x="251" y="942" font-size="10" fill="#000" text-anchor="start" font-weight="normal" textLength="52.1" lengthAdjust="spacingAndGlyphs" >22 Jun 04:00</text>
<rect x="316" y="930" width="1" height="3" fill="#000" shape-rendering="crispEdges"/>
<text x="315" y="942" font-size="10" fill="#000" text-anchor="start" font-weight="normal" textLength="52.1" lengthAdjust="spacingAndGlyphs" >23 Jun 12:00</text>
<rect x="380" y="930" width="1" height="3" fill="#000" shape-rendering="crispEdges"/>
<text x="379" y="942" font-size="10" fill="#000" text-anchor="start" font-weight="normal" textLength="52.1" lengthAdjust="spacingAndGlyphs" >24 Jun 20:00</text>
<rect x="444" y="930" width="1" height="3" fill="#000" shape-rendering="crispEdges"/>
<text x="443" y="942" font-size="10" fill="#000" text-anchor="start" font-weight="normal" textLength="52.1" lengthAdjust="spacingAndGlyphs" >28 Jun 00:00</text>
<rect x="508" y="930" width="1" height="3" fill="#000" shape-rendering="crispEdges"/>
<text x="507" y="942" font-size="10" fill="#000" text-anchor="start" font-weight="normal" textLength="52.1" lengthAdjust="spacingAndGlyphs" >29 Jun 08:00</text>
<rect x="572" y="930" width="1" height="3" fill="#000" shape-rendering="crispEdges"/>
<text x="571" y="942" font-size="10" fill="#000" text-anchor="start" font-weight="normal" textLength="52.1" lengthAdjust="spacingAndGlyphs" >30 Jun 16:00</text>
<rect x="636" y="930" width="1" height="3" fill="#000" shape-rendering="crispEdges"/>
<text x="635" y="942" font-size="10" fill="#000" text-anchor="start" font-weight="normal" textLength="44.0" lengthAdjust="spacingAndGlyphs" >2 Jul 00:00</text>
<rect x="700" y="930" width="1" height="3" fill="#000" shape-rendering="crispEdges"/>
<text x="699" y="942" font-size="10" fill="#000" text-anchor="start" font-weight="normal" textLength="44.0" lengthAdjust="spacingAndGlyphs" >5 Jul 04:00</text>
<rect x="764" y="930" width="1" height="3" fill="#000" shape-rendering="crispEdges"/>
<text x="763" y="942" font-size="10" fill="#000" text-anchor="start" font-weight="normal" textLength="44.0" lengthAdjust="spacingAndGlyphs" >6 Jul 12:00</text>
<rect x="828" y="930" width="1" height="3" fill="#000" shape-rendering="crispEdges"/>
<text x="827" y="942" font-size="10" fill="#000" text-anchor="start" font-weight="normal" textLength="44.0" lengthAdjust="spacingAndGlyphs" >7 Jul 20:00</text>
<rect x="892" y="930" width="1" height="3" fill="#000" shape-rendering="crispEdges"/>
<text x="891" y="942" font-size="10" fill="#000" text-anchor="start" font-weight="normal" textLength="44.0" lengthAdjust="spacingAndGlyphs" >9 Jul 04:00</text>
<rect x="956" y="930" width="1" height="3" fill="#000" shape-rendering="crispEdges"/>
<text x="955" y="942" font-size="10" fill="#000" text-anchor="start" font-weight="normal" textLength="49.1" lengthAdjust="spacingAndGlyphs" >12 Jul 08:00</text>
<rect x="1020" y="930" width="1" height="3" fill="#000" shape-rendering="crispEdges"/>
<text x="1019" y="942" font-size="10" fill="#000" text-anchor="start" font-weight="normal" textLength="49.1" lengthAdjust="spacingAndGlyphs" >13 Jul 16:00</text>
<rect x="1084" y="930" width="1" height="3" fill="#000" shape-rendering="crispEdges"/>
<text x="1083" y="942" font-size="10" fill="#000" text-anchor="start" font-weight="normal" textLength="49.1" lengthAdjust="spacingAndGlyphs" >15 Jul 00:00</text>
<rect x="1148" y="930" width="1" height="3" fill="#000" shape-rendering="crispEdges"/>
<text x="1147" y="942" font-size="10" fill="#000" text-anchor="start" font-weight="normal" textLength="49.1" lengthAdjust="spacingAndGlyphs" >16 Jul 08:00</text>
<rect x="1212" y="930" width="1" height="3" fill="#000" shape-rendering="crispEdges"/>
<text x="1211" y="942" font-size="10" fill="#000" text-anchor="start" font-weight="normal" textLength="49.1" lengthAdjust="spacingAndGlyphs" >19 Jul 12:00</text>
<rect x="1276" y="930" width="1" height="3" fill="#000" shape-rendering="crispEdges"/>
<text x="1275" y="942" font-size="10" fill="#000" text-anchor="start" font-weight="normal" textLength="49.1" lengthAdjust="spacingAndGlyphs" >20 Jul 20:00</text>
<rect x="1340" y="930" width="1" height="3" fill="#000" shape-rendering="crispEdges"/>
<text x="1339" y="942" font-size="10" fill="#000" text-anchor="start" font-weight="normal" textLength="49.1" lengthAdjust="spacingAndGlyphs" >22 Jul 04:00</text>
<rect x="1404" y="930" width="1" height="3" fill="#000" shape-rendering="crispEdges"/>
<text x="1403" y="942" font-size="10" fill="#000" text-anchor="start" font-weight="normal" textLength="49.1" lengthAdjust="spacingAndGlyphs" >23 Jul 12:00</text>
</g>
<g shape-rendering="crispEdges">
</g>
<circle cx="1" cy="10" r="5" fill="#dceefc" stroke="#3a7bd5" stroke-width="1.5"/>
<line x1="4" y1="14" x2="7.5" y2="19.5" stroke="#c9a227" stroke-width="2.5"/>
<g shape-rendering="crispEdges">
<rect x="15" y="1" width="1" height="21" fill="#a0a0a0"/>
</g>
<rect x="12.5" y="21.5" width="2" height="2" fill="none" stroke="#000" stroke-width="0.8" transform="rotate(45 13.5 22.5)"/>
<path d="M25.5,4.5 L34,4.5 L37.5,8 L37.5,17.5 L25.5,17.5 Z" fill="#fafafa" stroke="#555" stroke-width="1"/>
<rect x="27" y="10" width="6" height="1" fill="#888"/><rect x="27" y="12.5" width="5" height="1" fill="#888"/><rect x="27" y="7" width="3" height="1" fill="#888"/>
<path d="M33,10.5 h3 v3.5 h3.5 v3 h-3.5 v3.5 h-3 v-3.5 h-3.5 v-3 h3.5 z" fill="#22c422" stroke="#138a13" stroke-width="0.8"/>
<path transform="translate(44.00,5.00) scale(0.9167)" d="M2.5,0 L3,1 M0.5,2 L5.5,2 M1.5,3 L2,5 M4.5,3 L4,5 M0,5.5 L6,5.5 M0.5,7.5 L5.5,7.5 M3,5.5 L3,12 M3,8 L0,11 M3,8.5 L5.5,10 M11.5,0.5 L7.5,2 L7.5,6 L6.5,12 M7.5,5 L12,5 M10,5 L10,12" fill="none" stroke="#1a1a1a" stroke-width="1.200" stroke-linecap="square"/>
<path transform="translate(56.00,5.00) scale(0.9167)" d="M1,0.5 L2.5,2 M0,4 L2.5,4 L2.5,10.5 L4,9 M5,1.5 L12,1.5 M9,1.5 L9,11.5 L7,10.5" fill="none" stroke="#1a1a1a" stroke-width="1.200" stroke-linecap="square"/>
<path transform="translate(68.00,5.00) scale(0.9167)" d="M3,0 L4,1.5 M9,0 L8,1.5 M2,2.5 L10,2.5 L10,7.5 L2,7.5 Z M2,5 L10,5 M6,2.5 L6,12 M0,9.5 L12,9.5" fill="none" stroke="#1a1a1a" stroke-width="1.200" stroke-linecap="square"/>
<path d="M92.5,13 L99,5.5 L108,12 L101.5,19.5 Z" fill="#e8c040" stroke="#9a6a10" stroke-width="1"/>
<path d="M93,14 L101.5,20.5 L108,13" fill="none" stroke="#b07a18" stroke-width="1"/>
<rect x="123.5" y="4.5" width="9" height="10" fill="#4a90e2" stroke="#1f5fb0" stroke-width="1"/>
<rect x="125" y="7" width="6" height="1.5" fill="#fff"/><rect x="125" y="10" width="6" height="1.5" fill="#fff"/>
<path d="M120.5,19.5 Q120,15.5 124,16 Q125,12.5 129,14 Q132,12.5 134,15.5 Q137,16 136,19.5 Z" fill="#e8eef8" stroke="#8aa0c0" stroke-width="1"/>
<circle cx="156" cy="12" r="7.5" fill="none" stroke="#a8c4ec" stroke-width="1.2"/>
<circle cx="156" cy="12" r="5" fill="none" stroke="#6a9ae0" stroke-width="1.2"/>
<circle cx="156" cy="12" r="2.2" fill="#2f6fd0"/>
<path d="M156,12 L156,20 M158,14 Q163,16 161,19" fill="none" stroke="#3cae3c" stroke-width="1.6"/>
<ellipse cx="183" cy="8" rx="7" ry="3.5" fill="#7ab0e0" stroke="#4a80b8" stroke-width="1"/>
<path d="M176,10 L190,10 L187,19 L179,19 Z" fill="#f0c848" stroke="#b08820" stroke-width="1"/>
<circle cx="187.5" cy="16.5" r="4" fill="#d82020" stroke="#fff" stroke-width="0.8"/>
<rect x="186" y="15" width="3" height="3" fill="#fff"/>
<path transform="translate(196.50,5.00) scale(0.9167)" d="M6,0 L5,1.5 M2,1.5 L10,1.5 L10,12 L2,12 Z M2,5 L10,5 M2,8.5 L10,8.5" fill="none" stroke="#1a1a1a" stroke-width="1.200" stroke-linecap="square"/>
<path transform="translate(208.50,5.00) scale(0.9167)" d="M0.5,1.5 L5,1.5 M0,4.5 L5.5,4.5 M3,4.5 L0.5,10 L5,9.5 M4,7.5 L5.5,10.5 M6.5,3.5 L11.5,3.5 L11,11.5 L10,11 M9,0 L9,5 L6.5,12" fill="none" stroke="#1a1a1a" stroke-width="1.200" stroke-linecap="square"/>
<path transform="translate(220.50,5.00) scale(0.9167)" d="M6,0 L6,1.5 M0.5,2 L11.5,2 M4,3 L1,6 M8,3 L11,6 M8.5,5.5 L2,12 M3.5,6 L11.5,12" fill="none" stroke="#1a1a1a" stroke-width="1.200" stroke-linecap="square"/>
<path transform="translate(232.50,5.00) scale(0.9167)" d="M3,0.5 L9,0.5 L9,5 L3,5 Z M3,2.8 L9,2.8 M4,6 L1.5,8 M3,7 L11,7 L10.5,12 L9.5,11.5 M6,7 L2,12 M8.5,7.5 L5.5,12" fill="none" stroke="#1a1a1a" stroke-width="1.200" stroke-linecap="square"/>
<g shape-rendering="crispEdges">
<rect x="251" y="1" width="1" height="21" fill="#a0a0a0"/>
<rect x="255" y="3" width="3" height="1" fill="#a8a8a8"/>
<rect x="255" y="5" width="3" height="1" fill="#a8a8a8"/>
<rect x="255" y="7" width="3" height="1" fill="#a8a8a8"/>
<rect x="255" y="9" width="3" height="1" fill="#a8a8a8"/>
<rect x="255" y="11" width="3" height="1" fill="#a8a8a8"/>
<rect x="255" y="13" width="3" height="1" fill="#a8a8a8"/>
<rect x="255" y="15" width="3" height="1" fill="#a8a8a8"/>
<rect x="255" y="17" width="3" height="1" fill="#a8a8a8"/>
<rect x="255" y="19" width="3" height="1" fill="#a8a8a8"/>
<rect x="255" y="21" width="3" height="1" fill="#a8a8a8"/>
<rect x="269" y="6" width="1" height="13" fill="#444"/><rect x="267" y="17" width="14" height="1" fill="#444"/>
<rect x="268" y="7" width="3" height="1" fill="#444"/><rect x="279" y="16" width="1" height="3" fill="#444"/>
<rect x="274" y="8" width="1" height="7" fill="#2a9a2a"/><rect x="275" y="8" width="2" height="1" fill="#2a9a2a"/><rect x="272" y="14" width="2" height="1" fill="#2a9a2a"/>
<rect x="289" y="0" width="25" height="22" fill="#f8f8f8"/>
<rect x="289" y="0" width="25" height="1" fill="#999"/>
<rect x="289" y="0" width="1" height="22" fill="#999"/>
<rect x="289" y="22" width="26" height="1" fill="#fff"/>
<rect x="314" y="0" width="1" height="23" fill="#fff"/>
<rect x="297" y="6" width="1" height="13" fill="#444"/><rect x="295" y="17" width="14" height="1" fill="#444"/>
<rect x="296" y="7" width="3" height="1" fill="#444"/><rect x="307" y="16" width="1" height="3" fill="#444"/>
<rect x="300.5" y="5" width="1" height="13" fill="#333"/><rect x="299" y="7" width="4" height="7" fill="#22c422" stroke="#118811" stroke-width="0"/>
<rect x="325" y="6" width="1" height="13" fill="#444"/><rect x="323" y="17" width="14" height="1" fill="#444"/>
<rect x="324" y="7" width="3" height="1" fill="#444"/><rect x="335" y="16" width="1" height="3" fill="#444"/>
</g>
<path d="M325,15 Q329,9 331,9 Q333,9 336,13" fill="none" stroke="#2a9a2a" stroke-width="1.2"/>
<g shape-rendering="crispEdges">
<rect x="346" y="1" width="1" height="21" fill="#a0a0a0"/>
</g>
<circle cx="361" cy="10.5" r="5" fill="#e6f2ff" stroke="#2f7fd8" stroke-width="1.5"/>
<line x1="364.5" y1="14" x2="370" y2="19.5" stroke="#d0a830" stroke-width="2.5"/>
<rect x="358" y="9.8" width="6" height="1.6" fill="#2f7fd8"/>
<rect x="360.2" y="7.5" width="1.6" height="6" fill="#2f7fd8"/>
<circle cx="389" cy="10.5" r="5" fill="#e6f2ff" stroke="#2f7fd8" stroke-width="1.5"/>
<line x1="392.5" y1="14" x2="398" y2="19.5" stroke="#d0a830" stroke-width="2.5"/>
<rect x="386" y="9.8" width="6" height="1.6" fill="#2f7fd8"/>
<g shape-rendering="crispEdges">
<rect x="411" y="4" width="7" height="7" fill="#2fa02f"/><rect x="419" y="4" width="7" height="7" fill="#2f6fd0"/>
<rect x="411" y="12" width="7" height="7" fill="#2f6fd0"/><rect x="419" y="12" width="7" height="7" fill="#2fa02f"/>
<rect x="412" y="7" width="5" height="2" fill="#e0f0e0"/><rect x="420" y="7" width="5" height="2" fill="#e0e8f8"/><rect x="412" y="15" width="5" height="2" fill="#e0e8f8"/><rect x="420" y="15" width="5" height="2" fill="#e0f0e0"/>
<rect x="436" y="1" width="1" height="21" fill="#a0a0a0"/>
<rect x="441" y="0" width="25" height="22" fill="#f8f8f8"/>
<rect x="441" y="0" width="25" height="1" fill="#999"/>
<rect x="441" y="0" width="1" height="22" fill="#999"/>
<rect x="441" y="22" width="26" height="1" fill="#fff"/>
<rect x="466" y="0" width="1" height="23" fill="#fff"/>
<rect x="449" y="6" width="1" height="13" fill="#444"/><rect x="447" y="17" width="14" height="1" fill="#444"/>
<rect x="448" y="7" width="3" height="1" fill="#444"/><rect x="459" y="16" width="1" height="3" fill="#444"/>
<rect x="469" y="0" width="25" height="22" fill="#f8f8f8"/>
<rect x="469" y="0" width="25" height="1" fill="#999"/>
<rect x="469" y="0" width="1" height="22" fill="#999"/>
<rect x="469" y="22" width="26" height="1" fill="#fff"/>
<rect x="494" y="0" width="1" height="23" fill="#fff"/>
<rect x="477" y="6" width="1" height="13" fill="#444"/><rect x="475" y="17" width="14" height="1" fill="#444"/>
<rect x="476" y="7" width="3" height="1" fill="#444"/><rect x="487" y="16" width="1" height="3" fill="#444"/>
<rect x="483" y="7" width="1" height="9" fill="#2f6fb0"/>
</g>
<polygon points="452,8 456,11 452,14" fill="#22b022"/>
<polygon points="484,11 488,8.5 488,13.5" fill="#d04010"/>
<g shape-rendering="crispEdges">
<rect x="498" y="1" width="1" height="21" fill="#a0a0a0"/>
</g>
<path d="M508.5,4.5 L515,4.5 L518,7.5 L518,16.5 L508.5,16.5 Z" fill="#fafafa" stroke="#555" stroke-width="1"/>
<path d="M515,10.5 h3 v3.5 h3.5 v3 h-3.5 v3.5 h-3 v-3.5 h-3.5 v-3 h3.5 z" fill="#22c422" stroke="#138a13" stroke-width="0.8"/>
<polygon points="530,12 536,12 533,15" fill="#000"/>
<circle cx="554" cy="12" r="7.5" fill="#3a86d8" stroke="#1d5aa8" stroke-width="1"/>
<circle cx="554" cy="12" r="5.5" fill="#f4f8fc"/>
<path d="M554,8 L554,12 L557,13" fill="none" stroke="#333" stroke-width="1"/>
<polygon points="569,12 575,12 572,15" fill="#000"/>
<rect x="585.5" y="5.5" width="15" height="13" fill="#fff" stroke="#3a6fc0" stroke-width="1"/>
<rect x="586" y="6" width="14" height="2" fill="#6a9ae0"/><rect x="586" y="12" width="14" height="1" fill="#8ab0e0"/>
<path d="M587,11 L590,9.5 L593,10.5 L596,9 L599,9.5" fill="none" stroke="#c03020" stroke-width="1"/>
<path d="M587,16 L590,14.5 L593,16 L596,14 L599,15" fill="none" stroke="#30a030" stroke-width="1"/>
<polygon points="608,12 614,12 611,15" fill="#000"/>
<g shape-rendering="crispEdges">
<rect x="619" y="1" width="1" height="23" fill="#a0a0a0"/><rect x="620" y="1" width="1" height="23" fill="#fff"/>
<rect x="623" y="3" width="3" height="1" fill="#a8a8a8"/>
<rect x="623" y="5" width="3" height="1" fill="#a8a8a8"/>
<rect x="623" y="7" width="3" height="1" fill="#a8a8a8"/>
<rect x="623" y="9" width="3" height="1" fill="#a8a8a8"/>
<rect x="623" y="11" width="3" height="1" fill="#a8a8a8"/>
<rect x="623" y="13" width="3" height="1" fill="#a8a8a8"/>
<rect x="623" y="15" width="3" height="1" fill="#a8a8a8"/>
<rect x="623" y="17" width="3" height="1" fill="#a8a8a8"/>
<rect x="623" y="19" width="3" height="1" fill="#a8a8a8"/>
<rect x="623" y="21" width="3" height="1" fill="#a8a8a8"/>
<rect x="629" y="0" width="25" height="22" fill="#f8f8f8"/>
<rect x="629" y="0" width="25" height="1" fill="#999"/>
<rect x="629" y="0" width="1" height="22" fill="#999"/>
<rect x="629" y="22" width="26" height="1" fill="#fff"/>
<rect x="654" y="0" width="1" height="23" fill="#fff"/>
</g>
<polygon points="637,5 637,17 640,14.5 643,19.5 645,18.5 642,13.5 646,13" fill="#404040"/>
<g shape-rendering="crispEdges">
<rect x="669" y="5" width="1" height="15" fill="#404040"/><rect x="662" y="12" width="15" height="1" fill="#404040"/>
<rect x="686" y="1" width="1" height="21" fill="#a0a0a0"/>
<rect x="703" y="6" width="1" height="13" fill="#404040"/>
<rect x="726" y="12" width="12" height="1" fill="#404040"/>
</g>
<line x1="754" y1="19" x2="766" y2="7" stroke="#505050" stroke-width="1"/>
<path d="M780,16 L793,5 M782,19 L795,8 M784,10 L788,10 M787,13 L791,13" fill="none" stroke="#505050" stroke-width="1"/>
<text x="791" y="20" font-size="6.5" font-weight="bold" fill="#404040">E</text>
<g shape-rendering="crispEdges">
<rect x="809" y="5" width="1" height="1" fill="#505050"/>
<rect x="811" y="5" width="1" height="1" fill="#505050"/>
<rect x="813" y="5" width="1" height="1" fill="#505050"/>
<rect x="815" y="5" width="1" height="1" fill="#505050"/>
<rect x="817" y="5" width="1" height="1" fill="#505050"/>
<rect x="819" y="5" width="1" height="1" fill="#505050"/>
<rect x="821" y="5" width="1" height="1" fill="#505050"/>
<rect x="809" y="9" width="1" height="1" fill="#505050"/>
<rect x="811" y="9" width="1" height="1" fill="#505050"/>
<rect x="813" y="9" width="1" height="1" fill="#505050"/>
<rect x="815" y="9" width="1" height="1" fill="#505050"/>
<rect x="817" y="9" width="1" height="1" fill="#505050"/>
<rect x="819" y="9" width="1" height="1" fill="#505050"/>
<rect x="821" y="9" width="1" height="1" fill="#505050"/>
<rect x="809" y="13" width="1" height="1" fill="#505050"/>
<rect x="811" y="13" width="1" height="1" fill="#505050"/>
<rect x="813" y="13" width="1" height="1" fill="#505050"/>
<rect x="815" y="13" width="1" height="1" fill="#505050"/>
<rect x="817" y="13" width="1" height="1" fill="#505050"/>
<rect x="819" y="13" width="1" height="1" fill="#505050"/>
<rect x="821" y="13" width="1" height="1" fill="#505050"/>
<rect x="809" y="16" width="1" height="1" fill="#505050"/>
<rect x="811" y="16" width="1" height="1" fill="#505050"/>
<rect x="813" y="16" width="1" height="1" fill="#505050"/>
<rect x="815" y="16" width="1" height="1" fill="#505050"/>
<rect x="817" y="16" width="1" height="1" fill="#505050"/>
</g>
<text x="818" y="20" font-size="6.5" font-weight="bold" fill="#404040">F</text>
<text x="839" y="17" font-size="12" fill="#505050">A</text>
<rect x="865.5" y="5.5" width="12" height="13" fill="none" stroke="#606060" stroke-width="1" stroke-dasharray="1,1" shape-rendering="crispEdges"/>
<text x="867" y="16.5" font-size="12" font-weight="bold" fill="#404040">T</text>
<path d="M895,8 L898,5 L901,8 L898,11 Z M902,16 L905,13 L908,16 L905,19 Z" fill="#303030"/><path d="M896,12 L899,15 L904,9" fill="none" stroke="#303030" stroke-width="1.4"/>
<polygon points="913,12 919,12 916,15" fill="#000"/>
<g shape-rendering="crispEdges">
<rect x="925" y="1" width="1" height="23" fill="#a0a0a0"/><rect x="926" y="1" width="1" height="23" fill="#fff"/>
<rect x="929" y="3" width="3" height="1" fill="#a8a8a8"/>
<rect x="929" y="5" width="3" height="1" fill="#a8a8a8"/>
<rect x="929" y="7" width="3" height="1" fill="#a8a8a8"/>
<rect x="929" y="9" width="3" height="1" fill="#a8a8a8"/>
<rect x="929" y="11" width="3" height="1" fill="#a8a8a8"/>
<rect x="929" y="13" width="3" height="1" fill="#a8a8a8"/>
<rect x="929" y="15" width="3" height="1" fill="#a8a8a8"/>
<rect x="929" y="17" width="3" height="1" fill="#a8a8a8"/>
<rect x="929" y="19" width="3" height="1" fill="#a8a8a8"/>
<rect x="929" y="21" width="3" height="1" fill="#a8a8a8"/>
<rect x="1075" y="0" width="26" height="22" fill="#f8f8f8"/>
<rect x="1075" y="0" width="26" height="1" fill="#999"/>
<rect x="1075" y="0" width="1" height="22" fill="#999"/>
<rect x="1075" y="22" width="27" height="1" fill="#fff"/>
<rect x="1101" y="0" width="1" height="23" fill="#fff"/>
<rect x="1186" y="1" width="1" height="23" fill="#a0a0a0"/>
</g>
<text x="940" y="16" font-size="10" fill="#303030">M1</text>
<text x="968.5" y="16" font-size="10" fill="#303030">M5</text>
<text x="994.5" y="16" font-size="10" fill="#303030">M15</text>
<text x="1022.5" y="16" font-size="10" fill="#303030">M30</text>
<text x="1053.5" y="16" font-size="10" fill="#303030">H1</text>
<text x="1081" y="16" font-size="10" fill="#303030">H4</text>
<text x="1109" y="16" font-size="10" fill="#303030">D1</text>
<text x="1137" y="16" font-size="10" fill="#303030">W1</text>
<text x="1163.5" y="16" font-size="10" fill="#303030">MN</text>
<circle cx="1656" cy="9.5" r="4" fill="#fff" stroke="#2f6fd0" stroke-width="1.6"/>
<line x1="1653" y1="12.5" x2="1649" y2="16.5" stroke="#2f5fc0" stroke-width="2.2"/>
<ellipse cx="1678" cy="14.5" rx="5.5" ry="4.5" fill="#e8e8ec" stroke="#b8b8c0" stroke-width="1"/>
<polygon points="1675,18 1676,21 1679,18.5" fill="#b8b8c0"/>
<circle cx="1687.5" cy="9.5" r="8" fill="#e04020"/>
<text x="1687.5" y="14.5" font-size="12" fill="#fff" text-anchor="middle">1</text>
<defs>
<linearGradient id="gTop" x1="0" y1="0" x2="0" y2="1"><stop offset="0" stop-color="#f85858"/><stop offset="1" stop-color="#e02e2e"/></linearGradient>
<linearGradient id="gBot" x1="0" y1="0" x2="0" y2="1"><stop offset="0" stop-color="#e02c2c"/><stop offset="1" stop-color="#b00606"/></linearGradient>
<linearGradient id="gBtn" x1="0" y1="0" x2="0" y2="1"><stop offset="0" stop-color="#f4f4f4"/><stop offset="1" stop-color="#d4d4d4"/></linearGradient>
</defs>
<g shape-rendering="crispEdges">
<rect x="51" y="48" width="116" height="24" fill="#ffffff"/>
<rect x="0" y="48" width="51" height="24" fill="url(#gTop)"/>
<rect x="0" y="48" width="51" height="1" fill="#c01010"/><rect x="50" y="48" width="1" height="24" fill="#c01010"/>
<rect x="3" y="71" width="44" height="1" fill="#900000"/><rect x="3" y="72" width="44" height="1" fill="#f07070"/>
<rect x="166" y="48" width="52" height="24" fill="url(#gTop)"/>
<rect x="166" y="48" width="52" height="1" fill="#c01010"/><rect x="166" y="48" width="1" height="24" fill="#c01010"/><rect x="217" y="48" width="1" height="57" fill="#c01010"/>
<rect x="170" y="71" width="44" height="1" fill="#900000"/><rect x="170" y="72" width="44" height="1" fill="#f07070"/>
<rect x="0" y="72" width="108" height="33" fill="url(#gBot)"/>
<rect x="110" y="72" width="108" height="33" fill="url(#gBot)"/>
<rect x="0" y="104" width="108" height="1" fill="#a00000"/><rect x="110" y="104" width="108" height="1" fill="#a00000"/>
<rect x="3" y="71" width="44" height="1" fill="#900000"/><rect x="3" y="72" width="44" height="1" fill="#f07070"/>
<rect x="170" y="71" width="44" height="1" fill="#900000"/><rect x="170" y="72" width="44" height="1" fill="#f07070"/>
<rect x="108" y="72" width="2" height="33" fill="#fff"/><rect x="218" y="47" width="2" height="58" fill="#fff"/>
<rect x="53" y="48" width="111" height="22" fill="#ffffff"/>
<rect x="53" y="48" width="111" height="1" fill="#a0a4ac"/><rect x="53" y="69" width="111" height="1" fill="#a0a4ac"/>
<rect x="53" y="48" width="1" height="22" fill="#a0a4ac"/><rect x="163" y="48" width="1" height="22" fill="#a0a4ac"/>
<rect x="54" y="49" width="20" height="20" fill="url(#gBtn)"/><rect x="74" y="49" width="1" height="20" fill="#a0a4ac"/>
<rect x="143" y="49" width="20" height="20" fill="url(#gBtn)"/><rect x="142" y="49" width="1" height="20" fill="#a0a4ac"/>
</g>
<polygon points="61,57.5 66,57.5 63.5,60" fill="#4a5ab0"/>
<polygon points="150.5,60 155.5,60 153,57.5" fill="#4a5ab0"/>
<text x="138.5" y="63.5" font-size="12.5" fill="#000" text-anchor="end">1.00</text>
<text x="24" y="64" font-size="12.5" fill="#fff0f0" text-anchor="middle" textLength="25" lengthAdjust="spacingAndGlyphs">SELL</text>
<text x="191" y="64" font-size="12.5" fill="#fff0f0" text-anchor="middle" textLength="23" lengthAdjust="spacingAndGlyphs">BUY</text>
<text x="16" y="100.3" font-size="12" font-weight="bold" fill="#fff" textLength="33" lengthAdjust="spacingAndGlyphs">34937</text>
<rect x="55" y="96" width="3" height="4" fill="#fff"/>
<text x="61" y="99.5" font-size="34" fill="#fff" textLength="15" lengthAdjust="spacingAndGlyphs">5</text>
<text x="126" y="100.3" font-size="12" font-weight="bold" fill="#fff" textLength="33" lengthAdjust="spacingAndGlyphs">34945</text>
<rect x="165" y="96" width="3" height="4" fill="#fff"/>
<text x="172" y="99.5" font-size="34" fill="#fff" textLength="15" lengthAdjust="spacingAndGlyphs">5</text>
</svg>
</body></html>
